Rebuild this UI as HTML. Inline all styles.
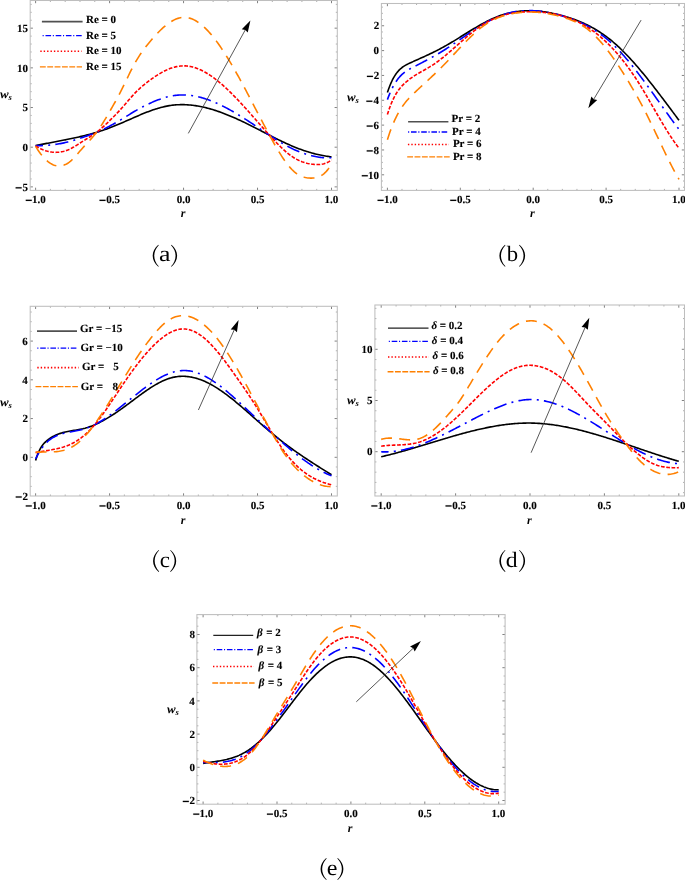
<!DOCTYPE html><html><head><meta charset="utf-8"><title>Figure</title><style>html,body{margin:0;padding:0;background:#fff}svg{display:block}</style></head><body><div style="will-change:transform;width:685px;height:880px;overflow:hidden"><svg width="685" height="880" viewBox="0 0 685 880" text-rendering="geometricPrecision">
<rect width="685" height="880" fill="#fff"/>
<clipPath id="cla"><rect x="30.2" y="0.5" width="307.1" height="189.9"/></clipPath>
<g clip-path="url(#cla)" fill="none" stroke-width="1.6" stroke-linejoin="round">
<polyline points="35.60,145.60 36.84,145.35 38.08,145.10 39.31,144.85 40.55,144.60 41.79,144.36 43.03,144.12 44.27,143.88 45.50,143.64 46.74,143.40 47.98,143.17 49.22,142.93 50.46,142.69 51.69,142.46 52.93,142.23 54.17,141.99 55.41,141.76 56.65,141.52 57.89,141.28 59.12,141.05 60.36,140.81 61.60,140.57 62.84,140.33 64.08,140.08 65.31,139.84 66.55,139.59 67.79,139.34 69.03,139.09 70.27,138.83 71.50,138.57 72.74,138.31 73.98,138.04 75.22,137.77 76.46,137.50 77.69,137.22 78.93,136.94 80.17,136.65 81.41,136.36 82.65,136.06 83.88,135.76 85.12,135.45 86.36,135.14 87.60,134.82 88.84,134.49 90.08,134.16 91.31,133.82 92.55,133.48 93.79,133.12 95.03,132.76 96.27,132.40 97.50,132.02 98.74,131.64 99.98,131.25 101.22,130.85 102.46,130.44 103.69,130.03 104.93,129.60 106.17,129.17 107.41,128.72 108.65,128.27 109.88,127.81 111.12,127.33 112.36,126.85 113.60,126.36 114.84,125.86 116.07,125.35 117.31,124.84 118.55,124.31 119.79,123.79 121.03,123.26 122.27,122.72 123.50,122.18 124.74,121.64 125.98,121.09 127.22,120.55 128.46,120.00 129.69,119.45 130.93,118.90 132.17,118.36 133.41,117.81 134.65,117.27 135.88,116.73 137.12,116.19 138.36,115.66 139.60,115.13 140.84,114.61 142.07,114.10 143.31,113.59 144.55,113.09 145.79,112.60 147.03,112.11 148.26,111.64 149.50,111.17 150.74,110.72 151.98,110.28 153.22,109.85 154.46,109.43 155.69,109.03 156.93,108.64 158.17,108.26 159.41,107.90 160.65,107.56 161.88,107.23 163.12,106.92 164.36,106.63 165.60,106.36 166.84,106.11 168.07,105.87 169.31,105.66 170.55,105.47 171.79,105.30 173.03,105.15 174.26,105.02 175.50,104.91 176.74,104.82 177.98,104.75 179.22,104.70 180.45,104.66 181.69,104.65 182.93,104.65 184.17,104.67 185.41,104.71 186.65,104.77 187.88,104.85 189.12,104.94 190.36,105.05 191.60,105.17 192.84,105.32 194.07,105.47 195.31,105.65 196.55,105.84 197.79,106.04 199.03,106.26 200.26,106.50 201.50,106.74 202.74,107.01 203.98,107.29 205.22,107.58 206.45,107.88 207.69,108.20 208.93,108.53 210.17,108.87 211.41,109.23 212.64,109.60 213.88,109.98 215.12,110.37 216.36,110.78 217.60,111.19 218.84,111.62 220.07,112.05 221.31,112.50 222.55,112.96 223.79,113.43 225.03,113.90 226.26,114.39 227.50,114.89 228.74,115.39 229.98,115.91 231.22,116.43 232.45,116.96 233.69,117.50 234.93,118.04 236.17,118.59 237.41,119.15 238.64,119.72 239.88,120.30 241.12,120.88 242.36,121.46 243.60,122.06 244.83,122.65 246.07,123.26 247.31,123.86 248.55,124.48 249.79,125.10 251.03,125.72 252.26,126.34 253.50,126.97 254.74,127.60 255.98,128.24 257.22,128.87 258.45,129.51 259.69,130.15 260.93,130.79 262.17,131.43 263.41,132.07 264.64,132.71 265.88,133.35 267.12,133.99 268.36,134.63 269.60,135.26 270.83,135.89 272.07,136.52 273.31,137.15 274.55,137.77 275.79,138.39 277.02,139.01 278.26,139.62 279.50,140.22 280.74,140.82 281.98,141.42 283.22,142.00 284.45,142.58 285.69,143.16 286.93,143.72 288.17,144.28 289.41,144.83 290.64,145.37 291.88,145.91 293.12,146.43 294.36,146.94 295.60,147.44 296.83,147.94 298.07,148.42 299.31,148.89 300.55,149.34 301.79,149.79 303.02,150.23 304.26,150.65 305.50,151.06 306.74,151.46 307.98,151.85 309.21,152.23 310.45,152.59 311.69,152.94 312.93,153.28 314.17,153.61 315.41,153.93 316.64,154.23 317.88,154.52 319.12,154.80 320.36,155.07 321.60,155.32 322.83,155.56 324.07,155.79 325.31,156.00 326.55,156.20 327.79,156.39 329.02,156.57 330.26,156.73 331.50,156.88" stroke="#000000"/>
<polyline points="35.60,145.69 36.84,145.69 38.08,145.67 39.31,145.65 40.55,145.62 41.79,145.58 43.03,145.52 44.27,145.46 45.50,145.39 46.74,145.31 47.98,145.21 49.22,145.11 50.46,144.99 51.69,144.86 52.93,144.72 54.17,144.56 55.41,144.40 56.65,144.22 57.89,144.03 59.12,143.82 60.36,143.60 61.60,143.37 62.84,143.12 64.08,142.86 65.31,142.59 66.55,142.30 67.79,141.99 69.03,141.67 70.27,141.33 71.50,140.98 72.74,140.62 73.98,140.24 75.22,139.86 76.46,139.46 77.69,139.05 78.93,138.64 80.17,138.23 81.41,137.81 82.65,137.39 83.88,136.97 85.12,136.54 86.36,136.12 87.60,135.69 88.84,135.25 90.08,134.81 91.31,134.35 92.55,133.89 93.79,133.42 95.03,132.93 96.27,132.43 97.50,131.92 98.74,131.39 99.98,130.84 101.22,130.27 102.46,129.69 103.69,129.10 104.93,128.49 106.17,127.88 107.41,127.25 108.65,126.60 109.88,125.95 111.12,125.29 112.36,124.63 113.60,123.95 114.84,123.26 116.07,122.56 117.31,121.86 118.55,121.14 119.79,120.41 121.03,119.67 122.27,118.92 123.50,118.16 124.74,117.39 125.98,116.62 127.22,115.85 128.46,115.08 129.69,114.31 130.93,113.55 132.17,112.79 133.41,112.05 134.65,111.31 135.88,110.58 137.12,109.87 138.36,109.18 139.60,108.49 140.84,107.82 142.07,107.17 143.31,106.52 144.55,105.90 145.79,105.28 147.03,104.67 148.26,104.08 149.50,103.51 150.74,102.94 151.98,102.39 153.22,101.85 154.46,101.32 155.69,100.81 156.93,100.32 158.17,99.84 159.41,99.38 160.65,98.94 161.88,98.52 163.12,98.12 164.36,97.74 165.60,97.39 166.84,97.05 168.07,96.74 169.31,96.45 170.55,96.19 171.79,95.96 173.03,95.75 174.26,95.56 175.50,95.40 176.74,95.26 177.98,95.15 179.22,95.07 180.45,95.00 181.69,94.97 182.93,94.96 184.17,94.97 185.41,95.01 186.65,95.08 187.88,95.17 189.12,95.28 190.36,95.42 191.60,95.58 192.84,95.76 194.07,95.96 195.31,96.19 196.55,96.44 197.79,96.71 199.03,97.00 200.26,97.31 201.50,97.64 202.74,97.99 203.98,98.36 205.22,98.75 206.45,99.16 207.69,99.58 208.93,100.03 210.17,100.49 211.41,100.96 212.64,101.46 213.88,101.97 215.12,102.49 216.36,103.04 217.60,103.59 218.84,104.16 220.07,104.75 221.31,105.35 222.55,105.96 223.79,106.59 225.03,107.22 226.26,107.87 227.50,108.54 228.74,109.21 229.98,109.90 231.22,110.59 232.45,111.30 233.69,112.02 234.93,112.74 236.17,113.48 237.41,114.22 238.64,114.97 239.88,115.73 241.12,116.50 242.36,117.28 243.60,118.06 244.83,118.85 246.07,119.64 247.31,120.44 248.55,121.25 249.79,122.06 251.03,122.88 252.26,123.70 253.50,124.52 254.74,125.34 255.98,126.17 257.22,127.00 258.45,127.83 259.69,128.66 260.93,129.49 262.17,130.32 263.41,131.15 264.64,131.98 265.88,132.81 267.12,133.63 268.36,134.45 269.60,135.27 270.83,136.09 272.07,136.90 273.31,137.70 274.55,138.50 275.79,139.29 277.02,140.07 278.26,140.84 279.50,141.61 280.74,142.36 281.98,143.10 283.22,143.83 284.45,144.55 285.69,145.25 286.93,145.94 288.17,146.61 289.41,147.26 290.64,147.90 291.88,148.52 293.12,149.12 294.36,149.70 295.60,150.26 296.83,150.80 298.07,151.32 299.31,151.82 300.55,152.29 301.79,152.75 303.02,153.19 304.26,153.61 305.50,154.01 306.74,154.39 307.98,154.75 309.21,155.10 310.45,155.43 311.69,155.74 312.93,156.03 314.17,156.31 315.41,156.57 316.64,156.81 317.88,157.03 319.12,157.23 320.36,157.40 321.60,157.55 322.83,157.67 324.07,157.77 325.31,157.83 326.55,157.86 327.79,157.86 329.02,157.83 330.26,157.76 331.50,157.66" stroke="#0000ff" stroke-dasharray="13.2 5.2 2 5.2" stroke-dashoffset="5.8"/>
<polyline points="35.60,145.96 36.84,146.70 38.08,147.40 39.31,148.06 40.55,148.67 41.79,149.23 43.03,149.75 44.27,150.22 45.50,150.64 46.74,151.02 47.98,151.35 49.22,151.64 50.46,151.87 51.69,152.06 52.93,152.20 54.17,152.29 55.41,152.33 56.65,152.32 57.89,152.26 59.12,152.15 60.36,151.99 61.60,151.78 62.84,151.52 64.08,151.21 65.31,150.84 66.55,150.42 67.79,149.95 69.03,149.43 70.27,148.85 71.50,148.23 72.74,147.55 73.98,146.85 75.22,146.11 76.46,145.34 77.69,144.56 78.93,143.76 80.17,142.96 81.41,142.16 82.65,141.37 83.88,140.59 85.12,139.82 86.36,139.05 87.60,138.29 88.84,137.52 90.08,136.74 91.31,135.95 92.55,135.14 93.79,134.31 95.03,133.44 96.27,132.55 97.50,131.61 98.74,130.63 99.98,129.60 101.22,128.54 102.46,127.45 103.69,126.33 104.93,125.18 106.17,124.00 107.41,122.81 108.65,121.61 109.88,120.40 111.12,119.18 112.36,117.96 113.60,116.72 114.84,115.47 116.07,114.20 117.31,112.92 118.55,111.61 119.79,110.27 121.03,108.90 122.27,107.50 123.50,106.08 124.74,104.65 125.98,103.21 127.22,101.77 128.46,100.33 129.69,98.90 130.93,97.49 132.17,96.10 133.41,94.75 134.65,93.42 135.88,92.15 137.12,90.91 138.36,89.72 139.60,88.57 140.84,87.46 142.07,86.38 143.31,85.33 144.55,84.32 145.79,83.33 147.03,82.36 148.26,81.42 149.50,80.50 150.74,79.60 151.98,78.72 153.22,77.85 154.46,77.00 155.69,76.17 156.93,75.37 158.17,74.58 159.41,73.83 160.65,73.10 161.88,72.39 163.12,71.72 164.36,71.07 165.60,70.46 166.84,69.88 168.07,69.34 169.31,68.83 170.55,68.36 171.79,67.93 173.03,67.53 174.26,67.18 175.50,66.86 176.74,66.59 177.98,66.36 179.22,66.17 180.45,66.03 181.69,65.93 182.93,65.88 184.17,65.87 185.41,65.91 186.65,66.00 187.88,66.13 189.12,66.31 190.36,66.53 191.60,66.79 192.84,67.09 194.07,67.44 195.31,67.82 196.55,68.25 197.79,68.71 199.03,69.22 200.26,69.76 201.50,70.33 202.74,70.95 203.98,71.59 205.22,72.27 206.45,72.99 207.69,73.74 208.93,74.51 210.17,75.32 211.41,76.16 212.64,77.03 213.88,77.93 215.12,78.86 216.36,79.81 217.60,80.79 218.84,81.80 220.07,82.83 221.31,83.88 222.55,84.96 223.79,86.06 225.03,87.18 226.26,88.32 227.50,89.49 228.74,90.67 229.98,91.87 231.22,93.09 232.45,94.32 233.69,95.57 234.93,96.84 236.17,98.12 237.41,99.42 238.64,100.73 239.88,102.05 241.12,103.38 242.36,104.72 243.60,106.07 244.83,107.44 246.07,108.81 247.31,110.18 248.55,111.57 249.79,112.96 251.03,114.35 252.26,115.75 253.50,117.16 254.74,118.56 255.98,119.97 257.22,121.38 258.45,122.79 259.69,124.19 260.93,125.60 262.17,127.00 263.41,128.40 264.64,129.79 265.88,131.18 267.12,132.57 268.36,133.94 269.60,135.31 270.83,136.67 272.07,138.02 273.31,139.35 274.55,140.67 275.79,141.98 277.02,143.26 278.26,144.52 279.50,145.76 280.74,146.98 281.98,148.16 283.22,149.32 284.45,150.44 285.69,151.53 286.93,152.58 288.17,153.59 289.41,154.56 290.64,155.49 291.88,156.37 293.12,157.21 294.36,157.99 295.60,158.72 296.83,159.40 298.07,160.03 299.31,160.61 300.55,161.15 301.79,161.64 303.02,162.08 304.26,162.48 305.50,162.85 306.74,163.17 307.98,163.46 309.21,163.71 310.45,163.93 311.69,164.12 312.93,164.28 314.17,164.41 315.41,164.50 316.64,164.55 317.88,164.56 319.12,164.51 320.36,164.41 321.60,164.24 322.83,164.01 324.07,163.70 325.31,163.31 326.55,162.84 327.79,162.28 329.02,161.62 330.26,160.86 331.50,159.99" stroke="#ff0000" stroke-dasharray="3.7 1.6"/>
<polyline points="35.60,146.42 36.84,148.40 38.08,150.29 39.31,152.07 40.55,153.75 41.79,155.32 43.03,156.79 44.27,158.15 45.50,159.40 46.74,160.55 47.98,161.59 49.22,162.52 50.46,163.34 51.69,164.06 52.93,164.67 54.17,165.16 55.41,165.55 56.65,165.82 57.89,165.99 59.12,166.04 60.36,165.98 61.60,165.80 62.84,165.51 64.08,165.11 65.31,164.60 66.55,163.97 67.79,163.22 69.03,162.36 70.27,161.38 71.50,160.29 72.74,159.11 73.98,157.85 75.22,156.52 76.46,155.14 77.69,153.73 78.93,152.29 80.17,150.85 81.41,149.41 82.65,148.00 83.88,146.62 85.12,145.27 86.36,143.94 87.60,142.62 88.84,141.30 90.08,139.97 91.31,138.61 92.55,137.22 93.79,135.79 95.03,134.29 96.27,132.73 97.50,131.09 98.74,129.36 99.98,127.55 101.22,125.66 102.46,123.71 103.69,121.70 104.93,119.64 106.17,117.55 107.41,115.43 108.65,113.29 109.88,111.14 111.12,108.99 112.36,106.84 113.60,104.67 114.84,102.49 116.07,100.27 117.31,98.02 118.55,95.72 119.79,93.37 121.03,90.95 122.27,88.48 123.50,85.96 124.74,83.42 125.98,80.86 127.22,78.29 128.46,75.74 129.69,73.21 130.93,70.72 132.17,68.29 133.41,65.91 134.65,63.62 135.88,61.42 137.12,59.31 138.36,57.30 139.60,55.36 140.84,53.51 142.07,51.73 143.31,50.01 144.55,48.35 145.79,46.74 147.03,45.18 148.26,43.66 149.50,42.17 150.74,40.70 151.98,39.26 153.22,37.85 154.46,36.46 155.69,35.10 156.93,33.78 158.17,32.49 159.41,31.23 160.65,30.02 161.88,28.84 163.12,27.71 164.36,26.63 165.60,25.59 166.84,24.60 168.07,23.67 169.31,22.79 170.55,21.97 171.79,21.21 173.03,20.51 174.26,19.88 175.50,19.31 176.74,18.81 177.98,18.38 179.22,18.02 180.45,17.74 181.69,17.53 182.93,17.41 184.17,17.37 185.41,17.41 186.65,17.53 187.88,17.74 189.12,18.02 190.36,18.38 191.60,18.81 192.84,19.32 194.07,19.90 195.31,20.55 196.55,21.27 197.79,22.06 199.03,22.91 200.26,23.83 201.50,24.82 202.74,25.87 203.98,26.98 205.22,28.15 206.45,29.37 207.69,30.66 208.93,31.99 210.17,33.39 211.41,34.83 212.64,36.33 213.88,37.87 215.12,39.47 216.36,41.11 217.60,42.79 218.84,44.52 220.07,46.30 221.31,48.11 222.55,49.96 223.79,51.85 225.03,53.78 226.26,55.74 227.50,57.74 228.74,59.77 229.98,61.82 231.22,63.91 232.45,66.03 233.69,68.17 234.93,70.34 236.17,72.53 237.41,74.75 238.64,76.98 239.88,79.23 241.12,81.50 242.36,83.79 243.60,86.10 244.83,88.41 246.07,90.74 247.31,93.08 248.55,95.43 249.79,97.79 251.03,100.15 252.26,102.52 253.50,104.89 254.74,107.26 255.98,109.63 257.22,112.01 258.45,114.38 259.69,116.74 260.93,119.11 262.17,121.46 263.41,123.81 264.64,126.14 265.88,128.47 267.12,130.79 268.36,133.09 269.60,135.37 270.83,137.64 272.07,139.89 273.31,142.11 274.55,144.30 275.79,146.46 277.02,148.58 278.26,150.66 279.50,152.69 280.74,154.67 281.98,156.60 283.22,158.46 284.45,160.26 285.69,161.99 286.93,163.65 288.17,165.23 289.41,166.72 290.64,168.13 291.88,169.45 293.12,170.68 294.36,171.80 295.60,172.82 296.83,173.74 298.07,174.56 299.31,175.28 300.55,175.90 301.79,176.45 303.02,176.90 304.26,177.28 305.50,177.58 306.74,177.81 307.98,177.97 309.21,178.07 310.45,178.11 311.69,178.09 312.93,178.03 314.17,177.90 315.41,177.72 316.64,177.46 317.88,177.11 319.12,176.66 320.36,176.09 321.60,175.40 322.83,174.57 324.07,173.59 325.31,172.45 326.55,171.13 327.79,169.63 329.02,167.93 330.26,166.01 331.50,163.88" stroke="#ff8000" stroke-dasharray="10.9 7.3"/>
</g>
<path d="M50.40 190.4v-1.5M50.40 0.5v1.5M65.19 190.4v-1.5M65.19 0.5v1.5M79.99 190.4v-1.5M79.99 0.5v1.5M94.78 190.4v-1.5M94.78 0.5v1.5M124.37 190.4v-1.5M124.37 0.5v1.5M139.17 190.4v-1.5M139.17 0.5v1.5M153.96 190.4v-1.5M153.96 0.5v1.5M168.76 190.4v-1.5M168.76 0.5v1.5M198.34 190.4v-1.5M198.34 0.5v1.5M213.14 190.4v-1.5M213.14 0.5v1.5M227.94 190.4v-1.5M227.94 0.5v1.5M242.73 190.4v-1.5M242.73 0.5v1.5M272.32 190.4v-1.5M272.32 0.5v1.5M287.12 190.4v-1.5M287.12 0.5v1.5M301.91 190.4v-1.5M301.91 0.5v1.5M316.71 190.4v-1.5M316.71 0.5v1.5M30.2 178.94h1.5M337.3 178.94h-1.5M30.2 171.00h1.5M337.3 171.00h-1.5M30.2 163.07h1.5M337.3 163.07h-1.5M30.2 155.13h1.5M337.3 155.13h-1.5M30.2 139.26h1.5M337.3 139.26h-1.5M30.2 131.33h1.5M337.3 131.33h-1.5M30.2 123.39h1.5M337.3 123.39h-1.5M30.2 115.46h1.5M337.3 115.46h-1.5M30.2 99.59h1.5M337.3 99.59h-1.5M30.2 91.66h1.5M337.3 91.66h-1.5M30.2 83.72h1.5M337.3 83.72h-1.5M30.2 75.78h1.5M337.3 75.78h-1.5M30.2 59.91h1.5M337.3 59.91h-1.5M30.2 51.98h1.5M337.3 51.98h-1.5M30.2 44.04h1.5M337.3 44.04h-1.5M30.2 36.11h1.5M337.3 36.11h-1.5M30.2 20.24h1.5M337.3 20.24h-1.5M30.2 12.31h1.5M337.3 12.31h-1.5M30.2 4.37h1.5M337.3 4.37h-1.5" stroke="#9a9a9a" stroke-width="0.8" fill="none"/>
<path d="M35.60 190.4v-2.7M35.60 0.5v2.7M109.58 190.4v-2.7M109.58 0.5v2.7M183.55 190.4v-2.7M183.55 0.5v2.7M257.52 190.4v-2.7M257.52 0.5v2.7M331.50 190.4v-2.7M331.50 0.5v2.7M30.2 186.88h2.7M337.3 186.88h-2.7M30.2 147.20h2.7M337.3 147.20h-2.7M30.2 107.52h2.7M337.3 107.52h-2.7M30.2 67.85h2.7M337.3 67.85h-2.7M30.2 28.17h2.7M337.3 28.17h-2.7" stroke="#6a6a6a" stroke-width="0.85" fill="none"/>
<rect x="30.2" y="0.5" width="307.10" height="189.90" fill="none" stroke="#bebebe" stroke-width="1.05"/>
<g font-family="Liberation Serif, serif" font-weight="bold" font-size="11px" fill="#000" stroke="#000" stroke-width="0.12" stroke-linejoin="round">
<text x="32.09" y="203.10">1.0</text><rect x="25.77" y="199.72" width="6.0" height="1.25" fill="#000"/>
<text x="106.29" y="203.10">0.5</text><rect x="99.51" y="199.72" width="6.0" height="1.25" fill="#000"/>
<text x="176.68" y="203.10">0.0</text>
<text x="250.64" y="203.10">0.5</text>
<text x="324.39" y="203.10">1.0</text>
<text x="22.40" y="190.57">5</text><rect x="15.64" y="187.20" width="6.0" height="1.25" fill="#000"/>
<text x="22.42" y="150.90">0</text>
<text x="22.40" y="111.22">5</text>
<text x="16.92" y="71.55">10</text>
<text x="16.90" y="31.87">15</text>
<text x="86.0" y="22.7" xml:space="preserve"><tspan>Re = 0</tspan></text>
<text x="86.0" y="38.5" xml:space="preserve"><tspan>Re = 5</tspan></text>
<text x="86.0" y="54.4" xml:space="preserve"><tspan>Re = 10</tspan></text>
<text x="86.0" y="69.9" xml:space="preserve"><tspan>Re = 15</tspan></text>
</g>
<line x1="41.9" y1="21.6" x2="82.6" y2="21.6" stroke="#505050" stroke-width="1.6"/>
<line x1="42.6" y1="35.65" x2="82.2" y2="35.65" stroke="#0000ff" stroke-width="1.3" stroke-dasharray="1.1 1.8 5.6 1.7"/>
<line x1="40.3" y1="51.15" x2="81.6" y2="51.15" stroke="#ff0000" stroke-width="1.55" stroke-dasharray="1.4 2.0"/>
<line x1="39.9" y1="66.9" x2="82.0" y2="66.9" stroke="#ff8000" stroke-width="1.4" stroke-dasharray="5.85 1.5"/>
<text transform="translate(0.0,97.7) scale(1.08,1)" font-family="Liberation Serif, serif" font-weight="bold" font-style="italic" font-size="12px">w</text>
<text x="8.6" y="99.9" font-family="Liberation Serif, serif" font-weight="bold" font-style="italic" font-size="8.5px">s</text>
<text x="183.0" y="217.3" text-anchor="middle" font-family="Liberation Serif, serif" font-weight="bold" font-style="italic" font-size="12px">r</text>
<path d="M158.30 244.80C150.83 251.00 150.83 260.60 158.30 266.80L158.75 266.35C152.75 260.20 152.75 251.40 158.75 245.25Z" fill="#000"/><text transform="translate(159.09,261.40) scale(1.174,1)" font-family="Liberation Serif, serif" font-size="22px">a</text><path d="M171.50 244.80C178.97 251.00 178.97 260.60 171.50 266.80L171.05 266.35C177.05 260.20 177.05 251.40 171.05 245.25Z" fill="#000"/>
<line x1="188.3" y1="133.4" x2="245.29" y2="29.89" stroke="#3a3a3a" stroke-width="0.85"/>
<path d="M250.40 20.60L247.74 32.49L245.29 29.89L241.78 29.21Z" fill="#000"/>
<clipPath id="clb"><rect x="381.4" y="3.5" width="303.1" height="186.9"/></clipPath>
<g clip-path="url(#clb)" fill="none" stroke-width="1.6" stroke-linejoin="round">
<polyline points="387.40,92.45 388.62,88.91 389.84,85.71 391.06,82.82 392.28,80.23 393.50,77.91 394.72,75.84 395.94,74.00 397.16,72.36 398.38,70.92 399.60,69.65 400.82,68.52 402.04,67.51 403.26,66.62 404.48,65.83 405.70,65.11 406.92,64.46 408.14,63.85 409.36,63.28 410.58,62.72 411.80,62.17 413.02,61.62 414.24,61.07 415.46,60.52 416.68,59.98 417.90,59.43 419.12,58.88 420.34,58.33 421.56,57.78 422.78,57.23 424.00,56.67 425.22,56.11 426.44,55.55 427.66,54.98 428.88,54.41 430.10,53.83 431.32,53.25 432.54,52.66 433.76,52.06 434.98,51.46 436.20,50.85 437.42,50.23 438.64,49.60 439.86,48.96 441.08,48.32 442.30,47.66 443.52,46.99 444.74,46.31 445.96,45.62 447.18,44.92 448.40,44.22 449.62,43.50 450.84,42.78 452.06,42.05 453.28,41.31 454.50,40.57 455.72,39.82 456.94,39.07 458.16,38.32 459.38,37.56 460.61,36.80 461.83,36.04 463.05,35.28 464.27,34.53 465.49,33.77 466.71,33.01 467.93,32.26 469.15,31.50 470.37,30.76 471.59,30.01 472.81,29.28 474.03,28.55 475.25,27.82 476.47,27.10 477.69,26.39 478.91,25.69 480.13,25.00 481.35,24.32 482.57,23.65 483.79,22.99 485.01,22.34 486.23,21.70 487.45,21.08 488.67,20.48 489.89,19.89 491.11,19.31 492.33,18.75 493.55,18.21 494.77,17.68 495.99,17.18 497.21,16.69 498.43,16.22 499.65,15.78 500.87,15.35 502.09,14.95 503.31,14.56 504.53,14.20 505.75,13.85 506.97,13.52 508.19,13.22 509.41,12.93 510.63,12.66 511.85,12.41 513.07,12.17 514.29,11.96 515.51,11.76 516.73,11.58 517.95,11.42 519.17,11.28 520.39,11.15 521.61,11.04 522.83,10.95 524.05,10.87 525.27,10.81 526.49,10.76 527.71,10.73 528.93,10.72 530.15,10.72 531.37,10.74 532.59,10.77 533.81,10.82 535.03,10.88 536.25,10.96 537.47,11.05 538.69,11.15 539.91,11.27 541.13,11.40 542.35,11.55 543.57,11.70 544.79,11.87 546.01,12.06 547.23,12.25 548.45,12.46 549.67,12.68 550.89,12.91 552.11,13.16 553.33,13.41 554.55,13.68 555.77,13.95 556.99,14.24 558.21,14.54 559.43,14.85 560.65,15.17 561.87,15.50 563.09,15.83 564.31,16.18 565.53,16.54 566.75,16.91 567.97,17.29 569.19,17.68 570.41,18.08 571.63,18.49 572.85,18.92 574.07,19.35 575.29,19.80 576.51,20.27 577.73,20.74 578.95,21.23 580.17,21.74 581.39,22.26 582.61,22.79 583.83,23.34 585.05,23.90 586.27,24.48 587.49,25.08 588.71,25.69 589.93,26.32 591.15,26.97 592.37,27.63 593.59,28.32 594.81,29.02 596.03,29.74 597.25,30.48 598.47,31.24 599.69,32.02 600.91,32.82 602.13,33.64 603.35,34.48 604.57,35.34 605.79,36.22 607.02,37.13 608.24,38.05 609.46,39.00 610.68,39.98 611.90,40.97 613.12,41.99 614.34,43.04 615.56,44.11 616.78,45.20 618.00,46.31 619.22,47.45 620.44,48.61 621.66,49.79 622.88,50.99 624.10,52.21 625.32,53.45 626.54,54.71 627.76,55.99 628.98,57.29 630.20,58.60 631.42,59.93 632.64,61.28 633.86,62.65 635.08,64.03 636.30,65.43 637.52,66.84 638.74,68.27 639.96,69.71 641.18,71.16 642.40,72.63 643.62,74.11 644.84,75.60 646.06,77.11 647.28,78.62 648.50,80.15 649.72,81.68 650.94,83.23 652.16,84.78 653.38,86.35 654.60,87.92 655.82,89.49 657.04,91.08 658.26,92.67 659.48,94.27 660.70,95.87 661.92,97.48 663.14,99.10 664.36,100.72 665.58,102.34 666.80,103.96 668.02,105.59 669.24,107.22 670.46,108.85 671.68,110.48 672.90,112.12 674.12,113.75 675.34,115.39 676.56,117.02 677.78,118.65 679.00,120.28" stroke="#000000"/>
<polyline points="387.40,99.61 388.62,96.36 389.84,93.37 391.06,90.62 392.28,88.08 393.50,85.76 394.72,83.64 395.94,81.71 397.16,79.95 398.38,78.35 399.60,76.91 400.82,75.59 402.04,74.41 403.26,73.33 404.48,72.36 405.70,71.47 406.92,70.66 408.14,69.90 409.36,69.20 410.58,68.54 411.80,67.89 413.02,67.27 414.24,66.64 415.46,66.01 416.68,65.38 417.90,64.76 419.12,64.13 420.34,63.49 421.56,62.86 422.78,62.22 424.00,61.58 425.22,60.94 426.44,60.29 427.66,59.64 428.88,58.98 430.10,58.32 431.32,57.65 432.54,56.97 433.76,56.29 434.98,55.60 436.20,54.90 437.42,54.19 438.64,53.47 439.86,52.75 441.08,52.01 442.30,51.27 443.52,50.51 444.74,49.74 445.96,48.96 447.18,48.17 448.40,47.37 449.62,46.57 450.84,45.76 452.06,44.94 453.28,44.11 454.50,43.29 455.72,42.45 456.94,41.61 458.16,40.78 459.38,39.93 460.61,39.09 461.83,38.25 463.05,37.40 464.27,36.56 465.49,35.72 466.71,34.88 467.93,34.05 469.15,33.22 470.37,32.39 471.59,31.57 472.81,30.76 474.03,29.95 475.25,29.16 476.47,28.37 477.69,27.58 478.91,26.81 480.13,26.05 481.35,25.31 482.57,24.57 483.79,23.85 485.01,23.14 486.23,22.44 487.45,21.76 488.67,21.10 489.89,20.46 491.11,19.83 492.33,19.22 493.55,18.63 494.77,18.06 495.99,17.50 497.21,16.98 498.43,16.47 499.65,15.98 500.87,15.52 502.09,15.08 503.31,14.67 504.53,14.27 505.75,13.90 506.97,13.55 508.19,13.22 509.41,12.91 510.63,12.62 511.85,12.35 513.07,12.10 514.29,11.87 515.51,11.66 516.73,11.47 517.95,11.30 519.17,11.15 520.39,11.02 521.61,10.90 522.83,10.81 524.05,10.73 525.27,10.67 526.49,10.62 527.71,10.60 528.93,10.59 530.15,10.59 531.37,10.62 532.59,10.66 533.81,10.71 535.03,10.78 536.25,10.87 537.47,10.97 538.69,11.09 539.91,11.22 541.13,11.36 542.35,11.52 543.57,11.69 544.79,11.88 546.01,12.08 547.23,12.29 548.45,12.52 549.67,12.76 550.89,13.01 552.11,13.27 553.33,13.55 554.55,13.83 555.77,14.13 556.99,14.44 558.21,14.76 559.43,15.09 560.65,15.43 561.87,15.78 563.09,16.14 564.31,16.51 565.53,16.89 566.75,17.28 567.97,17.68 569.19,18.09 570.41,18.52 571.63,18.95 572.85,19.40 574.07,19.87 575.29,20.34 576.51,20.83 577.73,21.34 578.95,21.86 580.17,22.40 581.39,22.95 582.61,23.52 583.83,24.11 585.05,24.71 586.27,25.34 587.49,25.98 588.71,26.64 589.93,27.32 591.15,28.02 592.37,28.74 593.59,29.48 594.81,30.24 596.03,31.03 597.25,31.84 598.47,32.67 599.69,33.52 600.91,34.40 602.13,35.30 603.35,36.22 604.57,37.18 605.79,38.15 607.02,39.16 608.24,40.19 609.46,41.24 610.68,42.33 611.90,43.44 613.12,44.58 614.34,45.75 615.56,46.95 616.78,48.18 618.00,49.43 619.22,50.71 620.44,52.02 621.66,53.35 622.88,54.70 624.10,56.08 625.32,57.48 626.54,58.90 627.76,60.34 628.98,61.81 630.20,63.29 631.42,64.79 632.64,66.30 633.86,67.84 635.08,69.39 636.30,70.96 637.52,72.54 638.74,74.13 639.96,75.74 641.18,77.36 642.40,78.99 643.62,80.63 644.84,82.29 646.06,83.95 647.28,85.62 648.50,87.29 649.72,88.98 650.94,90.67 652.16,92.37 653.38,94.07 654.60,95.77 655.82,97.48 657.04,99.19 658.26,100.90 659.48,102.61 660.70,104.32 661.92,106.04 663.14,107.75 664.36,109.45 665.58,111.16 666.80,112.86 668.02,114.55 669.24,116.24 670.46,117.93 671.68,119.60 672.90,121.27 674.12,122.93 675.34,124.58 676.56,126.22 677.78,127.85 679.00,129.47" stroke="#0000ff" stroke-dasharray="13.2 5.2 2 5.2" stroke-dashoffset="5.8"/>
<polyline points="387.40,114.42 388.62,110.65 389.84,107.20 391.06,104.04 392.28,101.16 393.50,98.54 394.72,96.16 395.94,94.01 397.16,92.05 398.38,90.27 399.60,88.65 400.82,87.18 402.04,85.82 403.26,84.57 404.48,83.41 405.70,82.31 406.92,81.26 408.14,80.26 409.36,79.32 410.58,78.41 411.80,77.54 413.02,76.71 414.24,75.91 415.46,75.14 416.68,74.40 417.90,73.67 419.12,72.96 420.34,72.26 421.56,71.57 422.78,70.89 424.00,70.21 425.22,69.52 426.44,68.83 427.66,68.13 428.88,67.41 430.10,66.68 431.32,65.92 432.54,65.14 433.76,64.33 434.98,63.49 436.20,62.63 437.42,61.75 438.64,60.84 439.86,59.91 441.08,58.97 442.30,58.00 443.52,57.02 444.74,56.02 445.96,55.01 447.18,53.98 448.40,52.94 449.62,51.90 450.84,50.84 452.06,49.78 453.28,48.71 454.50,47.64 455.72,46.56 456.94,45.48 458.16,44.40 459.38,43.32 460.61,42.25 461.83,41.18 463.05,40.11 464.27,39.05 465.49,38.00 466.71,36.95 467.93,35.92 469.15,34.90 470.37,33.89 471.59,32.89 472.81,31.91 474.03,30.95 475.25,30.01 476.47,29.09 477.69,28.19 478.91,27.31 480.13,26.46 481.35,25.63 482.57,24.82 483.79,24.05 485.01,23.31 486.23,22.59 487.45,21.90 488.67,21.24 489.89,20.61 491.11,20.00 492.33,19.42 493.55,18.86 494.77,18.33 495.99,17.83 497.21,17.34 498.43,16.89 499.65,16.45 500.87,16.04 502.09,15.65 503.31,15.28 504.53,14.94 505.75,14.61 506.97,14.31 508.19,14.02 509.41,13.76 510.63,13.51 511.85,13.28 513.07,13.07 514.29,12.88 515.51,12.70 516.73,12.54 517.95,12.40 519.17,12.27 520.39,12.16 521.61,12.07 522.83,11.98 524.05,11.91 525.27,11.86 526.49,11.82 527.71,11.79 528.93,11.77 530.15,11.76 531.37,11.76 532.59,11.78 533.81,11.80 535.03,11.84 536.25,11.88 537.47,11.94 538.69,12.01 539.91,12.08 541.13,12.17 542.35,12.27 543.57,12.39 544.79,12.51 546.01,12.65 547.23,12.80 548.45,12.97 549.67,13.15 550.89,13.34 552.11,13.55 553.33,13.77 554.55,14.01 555.77,14.26 556.99,14.53 558.21,14.81 559.43,15.11 560.65,15.43 561.87,15.76 563.09,16.11 564.31,16.48 565.53,16.87 566.75,17.27 567.97,17.69 569.19,18.14 570.41,18.60 571.63,19.08 572.85,19.58 574.07,20.10 575.29,20.64 576.51,21.20 577.73,21.78 578.95,22.38 580.17,23.01 581.39,23.66 582.61,24.32 583.83,25.02 585.05,25.73 586.27,26.47 587.49,27.23 588.71,28.02 589.93,28.82 591.15,29.66 592.37,30.52 593.59,31.40 594.81,32.31 596.03,33.24 597.25,34.20 598.47,35.18 599.69,36.19 600.91,37.22 602.13,38.28 603.35,39.37 604.57,40.48 605.79,41.62 607.02,42.78 608.24,43.97 609.46,45.19 610.68,46.44 611.90,47.71 613.12,49.01 614.34,50.34 615.56,51.70 616.78,53.08 618.00,54.49 619.22,55.93 620.44,57.40 621.66,58.90 622.88,60.42 624.10,61.98 625.32,63.56 626.54,65.18 627.76,66.82 628.98,68.49 630.20,70.20 631.42,71.93 632.64,73.69 633.86,75.49 635.08,77.31 636.30,79.17 637.52,81.05 638.74,82.97 639.96,84.92 641.18,86.90 642.40,88.90 643.62,90.92 644.84,92.97 646.06,95.03 647.28,97.11 648.50,99.20 649.72,101.30 650.94,103.41 652.16,105.53 653.38,107.64 654.60,109.76 655.82,111.88 657.04,113.99 658.26,116.09 659.48,118.18 660.70,120.26 661.92,122.33 663.14,124.37 664.36,126.40 665.58,128.41 666.80,130.38 668.02,132.33 669.24,134.26 670.46,136.14 671.68,138.00 672.90,139.81 674.12,141.58 675.34,143.31 676.56,145.00 677.78,146.63 679.00,148.22" stroke="#ff0000" stroke-dasharray="3.7 1.6"/>
<polyline points="387.40,139.71 388.62,135.91 389.84,132.34 391.06,129.00 392.28,125.86 393.50,122.93 394.72,120.18 395.94,117.61 397.16,115.20 398.38,112.95 399.60,110.84 400.82,108.86 402.04,107.01 403.26,105.26 404.48,103.62 405.70,102.06 406.92,100.59 408.14,99.19 409.36,97.85 410.58,96.57 411.80,95.34 413.02,94.13 414.24,92.96 415.46,91.80 416.68,90.65 417.90,89.51 419.12,88.37 420.34,87.24 421.56,86.11 422.78,84.98 424.00,83.86 425.22,82.73 426.44,81.61 427.66,80.48 428.88,79.35 430.10,78.22 431.32,77.09 432.54,75.94 433.76,74.80 434.98,73.64 436.20,72.48 437.42,71.30 438.64,70.12 439.86,68.92 441.08,67.72 442.30,66.49 443.52,65.26 444.74,64.01 445.96,62.74 447.18,61.47 448.40,60.18 449.62,58.89 450.84,57.59 452.06,56.28 453.28,54.97 454.50,53.66 455.72,52.35 456.94,51.03 458.16,49.73 459.38,48.42 460.61,47.12 461.83,45.83 463.05,44.55 464.27,43.28 465.49,42.02 466.71,40.77 467.93,39.54 469.15,38.33 470.37,37.13 471.59,35.96 472.81,34.80 474.03,33.67 475.25,32.57 476.47,31.49 477.69,30.44 478.91,29.41 480.13,28.42 481.35,27.46 482.57,26.54 483.79,25.65 485.01,24.80 486.23,23.98 487.45,23.20 488.67,22.46 489.89,21.74 491.11,21.06 492.33,20.41 493.55,19.79 494.77,19.21 495.99,18.65 497.21,18.12 498.43,17.62 499.65,17.14 500.87,16.69 502.09,16.27 503.31,15.87 504.53,15.50 505.75,15.15 506.97,14.82 508.19,14.51 509.41,14.23 510.63,13.96 511.85,13.71 513.07,13.48 514.29,13.27 515.51,13.08 516.73,12.90 517.95,12.74 519.17,12.60 520.39,12.47 521.61,12.36 522.83,12.26 524.05,12.18 525.27,12.12 526.49,12.07 527.71,12.04 528.93,12.02 530.15,12.02 531.37,12.03 532.59,12.05 533.81,12.10 535.03,12.15 536.25,12.22 537.47,12.31 538.69,12.41 539.91,12.52 541.13,12.65 542.35,12.79 543.57,12.95 544.79,13.12 546.01,13.30 547.23,13.50 548.45,13.71 549.67,13.93 550.89,14.17 552.11,14.41 553.33,14.68 554.55,14.95 555.77,15.24 556.99,15.54 558.21,15.85 559.43,16.18 560.65,16.51 561.87,16.86 563.09,17.22 564.31,17.59 565.53,17.98 566.75,18.38 567.97,18.80 569.19,19.23 570.41,19.69 571.63,20.17 572.85,20.67 574.07,21.20 575.29,21.75 576.51,22.33 577.73,22.95 578.95,23.59 580.17,24.27 581.39,24.98 582.61,25.74 583.83,26.53 585.05,27.36 586.27,28.23 587.49,29.15 588.71,30.11 589.93,31.12 591.15,32.17 592.37,33.27 593.59,34.41 594.81,35.59 596.03,36.81 597.25,38.08 598.47,39.39 599.69,40.73 600.91,42.11 602.13,43.54 603.35,44.99 604.57,46.48 605.79,48.01 607.02,49.57 608.24,51.17 609.46,52.79 610.68,54.45 611.90,56.14 613.12,57.86 614.34,59.60 615.56,61.37 616.78,63.18 618.00,65.00 619.22,66.85 620.44,68.73 621.66,70.63 622.88,72.55 624.10,74.49 625.32,76.46 626.54,78.44 627.76,80.44 628.98,82.46 630.20,84.50 631.42,86.56 632.64,88.64 633.86,90.74 635.08,92.87 636.30,95.02 637.52,97.19 638.74,99.39 639.96,101.62 641.18,103.88 642.40,106.17 643.62,108.49 644.84,110.84 646.06,113.23 647.28,115.65 648.50,118.11 649.72,120.59 650.94,123.10 652.16,125.62 653.38,128.17 654.60,130.73 655.82,133.30 657.04,135.87 658.26,138.45 659.48,141.03 660.70,143.60 661.92,146.17 663.14,148.73 664.36,151.27 665.58,153.79 666.80,156.29 668.02,158.77 669.24,161.21 670.46,163.63 671.68,166.00 672.90,168.34 674.12,170.64 675.34,172.88 676.56,175.08 677.78,177.22 679.00,179.31" stroke="#ff8000" stroke-dasharray="10.9 7.3"/>
</g>
<path d="M401.98 190.4v-1.5M401.98 3.5v1.5M416.56 190.4v-1.5M416.56 3.5v1.5M431.14 190.4v-1.5M431.14 3.5v1.5M445.72 190.4v-1.5M445.72 3.5v1.5M474.88 190.4v-1.5M474.88 3.5v1.5M489.46 190.4v-1.5M489.46 3.5v1.5M504.04 190.4v-1.5M504.04 3.5v1.5M518.62 190.4v-1.5M518.62 3.5v1.5M547.78 190.4v-1.5M547.78 3.5v1.5M562.36 190.4v-1.5M562.36 3.5v1.5M576.94 190.4v-1.5M576.94 3.5v1.5M591.52 190.4v-1.5M591.52 3.5v1.5M620.68 190.4v-1.5M620.68 3.5v1.5M635.26 190.4v-1.5M635.26 3.5v1.5M649.84 190.4v-1.5M649.84 3.5v1.5M664.42 190.4v-1.5M664.42 3.5v1.5M381.4 187.22h1.5M684.5 187.22h-1.5M381.4 181.01h1.5M684.5 181.01h-1.5M381.4 168.59h1.5M684.5 168.59h-1.5M381.4 162.38h1.5M684.5 162.38h-1.5M381.4 156.17h1.5M684.5 156.17h-1.5M381.4 143.75h1.5M684.5 143.75h-1.5M381.4 137.54h1.5M684.5 137.54h-1.5M381.4 131.33h1.5M684.5 131.33h-1.5M381.4 118.91h1.5M684.5 118.91h-1.5M381.4 112.70h1.5M684.5 112.70h-1.5M381.4 106.49h1.5M684.5 106.49h-1.5M381.4 94.07h1.5M684.5 94.07h-1.5M381.4 87.86h1.5M684.5 87.86h-1.5M381.4 81.65h1.5M684.5 81.65h-1.5M381.4 69.23h1.5M684.5 69.23h-1.5M381.4 63.02h1.5M684.5 63.02h-1.5M381.4 56.81h1.5M684.5 56.81h-1.5M381.4 44.39h1.5M684.5 44.39h-1.5M381.4 38.18h1.5M684.5 38.18h-1.5M381.4 31.97h1.5M684.5 31.97h-1.5M381.4 19.55h1.5M684.5 19.55h-1.5M381.4 13.34h1.5M684.5 13.34h-1.5M381.4 7.13h1.5M684.5 7.13h-1.5" stroke="#9a9a9a" stroke-width="0.8" fill="none"/>
<path d="M387.40 190.4v-2.7M387.40 3.5v2.7M460.30 190.4v-2.7M460.30 3.5v2.7M533.20 190.4v-2.7M533.20 3.5v2.7M606.10 190.4v-2.7M606.10 3.5v2.7M679.00 190.4v-2.7M679.00 3.5v2.7M381.4 174.80h2.7M684.5 174.80h-2.7M381.4 149.96h2.7M684.5 149.96h-2.7M381.4 125.12h2.7M684.5 125.12h-2.7M381.4 100.28h2.7M684.5 100.28h-2.7M381.4 75.44h2.7M684.5 75.44h-2.7M381.4 50.60h2.7M684.5 50.60h-2.7M381.4 25.76h2.7M684.5 25.76h-2.7" stroke="#6a6a6a" stroke-width="0.85" fill="none"/>
<rect x="381.4" y="3.5" width="303.10" height="186.90" fill="none" stroke="#bebebe" stroke-width="1.05"/>
<g font-family="Liberation Serif, serif" font-weight="bold" font-size="11px" fill="#000" stroke="#000" stroke-width="0.12" stroke-linejoin="round">
<text x="383.89" y="203.10">1.0</text><rect x="377.57" y="199.72" width="6.0" height="1.25" fill="#000"/>
<text x="457.02" y="203.10">0.5</text><rect x="450.24" y="199.72" width="6.0" height="1.25" fill="#000"/>
<text x="526.33" y="203.10">0.0</text>
<text x="599.22" y="203.10">0.5</text>
<text x="671.89" y="203.10">1.0</text>
<text x="368.12" y="178.50">10</text><rect x="361.80" y="175.12" width="6.0" height="1.25" fill="#000"/>
<text x="373.57" y="153.66">8</text><rect x="366.73" y="150.28" width="6.0" height="1.25" fill="#000"/>
<text x="373.52" y="128.82">6</text><rect x="366.70" y="125.44" width="6.0" height="1.25" fill="#000"/>
<text x="373.40" y="103.98">4</text><rect x="366.35" y="100.61" width="6.0" height="1.25" fill="#000"/>
<text x="373.67" y="79.14">2</text><rect x="366.93" y="75.77" width="6.0" height="1.25" fill="#000"/>
<text x="373.62" y="54.30">0</text>
<text x="373.67" y="29.46">2</text>
<text x="451.6" y="122.45" xml:space="preserve"><tspan>Pr = 2</tspan></text>
<text x="452.0" y="134.7" xml:space="preserve"><tspan>Pr = 4</tspan></text>
<text x="452.9" y="147.0" xml:space="preserve"><tspan>Pr = 6</tspan></text>
<text x="452.9" y="159.5" xml:space="preserve"><tspan>Pr = 8</tspan></text>
</g>
<line x1="408.1" y1="121.8" x2="448.4" y2="121.8" stroke="#505050" stroke-width="1.6"/>
<line x1="408.1" y1="132.0" x2="448.4" y2="132.0" stroke="#0000ff" stroke-width="1.3" stroke-dasharray="1.1 1.8 5.6 1.7"/>
<line x1="407.9" y1="144.4" x2="448.9" y2="144.4" stroke="#ff0000" stroke-width="1.55" stroke-dasharray="1.4 2.0"/>
<line x1="407.2" y1="156.9" x2="449.7" y2="156.9" stroke="#ff8000" stroke-width="1.4" stroke-dasharray="5.85 1.5"/>
<text transform="translate(347.0,100.5) scale(1.08,1)" font-family="Liberation Serif, serif" font-weight="bold" font-style="italic" font-size="12px">w</text>
<text x="355.6" y="102.7" font-family="Liberation Serif, serif" font-weight="bold" font-style="italic" font-size="8.5px">s</text>
<text x="532.3" y="217.3" text-anchor="middle" font-family="Liberation Serif, serif" font-weight="bold" font-style="italic" font-size="12px">r</text>
<path d="M505.00 244.80C497.53 251.00 497.53 260.60 505.00 266.80L505.45 266.35C499.45 260.20 499.45 251.40 505.45 245.25Z" fill="#000"/><text transform="translate(506.80,261.40) scale(1.033,1)" font-family="Liberation Serif, serif" font-size="22px">b</text><path d="M519.50 244.80C526.97 251.00 526.97 260.60 519.50 266.80L519.05 266.35C525.05 260.20 525.05 251.40 519.05 245.25Z" fill="#000"/>
<line x1="641.1" y1="20.1" x2="593.74" y2="99.21" stroke="#3a3a3a" stroke-width="0.85"/>
<path d="M588.30 108.30L591.39 96.51L593.74 99.21L597.23 100.01Z" fill="#000"/>
<clipPath id="clc"><rect x="30.2" y="306.3" width="307.1" height="189.7"/></clipPath>
<g clip-path="url(#clc)" fill="none" stroke-width="1.6" stroke-linejoin="round">
<polyline points="35.60,460.44 36.84,456.65 38.08,453.39 39.31,450.60 40.55,448.22 41.79,446.21 43.03,444.51 44.27,443.07 45.50,441.83 46.74,440.74 47.98,439.76 49.22,438.85 50.46,438.02 51.69,437.25 52.93,436.54 54.17,435.89 55.41,435.29 56.65,434.75 57.89,434.25 59.12,433.79 60.36,433.37 61.60,432.99 62.84,432.63 64.08,432.31 65.31,432.02 66.55,431.74 67.79,431.49 69.03,431.25 70.27,431.03 71.50,430.82 72.74,430.61 73.98,430.40 75.22,430.20 76.46,429.99 77.69,429.78 78.93,429.56 80.17,429.32 81.41,429.07 82.65,428.80 83.88,428.50 85.12,428.18 86.36,427.83 87.60,427.46 88.84,427.05 90.08,426.62 91.31,426.17 92.55,425.69 93.79,425.18 95.03,424.65 96.27,424.09 97.50,423.52 98.74,422.92 99.98,422.30 101.22,421.66 102.46,421.00 103.69,420.32 104.93,419.63 106.17,418.91 107.41,418.18 108.65,417.43 109.88,416.67 111.12,415.89 112.36,415.09 113.60,414.29 114.84,413.47 116.07,412.63 117.31,411.79 118.55,410.94 119.79,410.07 121.03,409.20 122.27,408.31 123.50,407.42 124.74,406.52 125.98,405.61 127.22,404.70 128.46,403.78 129.69,402.86 130.93,401.94 132.17,401.01 133.41,400.08 134.65,399.15 135.88,398.23 137.12,397.30 138.36,396.38 139.60,395.47 140.84,394.56 142.07,393.66 143.31,392.77 144.55,391.89 145.79,391.03 147.03,390.17 148.26,389.33 149.50,388.50 150.74,387.69 151.98,386.90 153.22,386.13 154.46,385.38 155.69,384.65 156.93,383.94 158.17,383.25 159.41,382.59 160.65,381.96 161.88,381.35 163.12,380.78 164.36,380.23 165.60,379.72 166.84,379.23 168.07,378.78 169.31,378.37 170.55,377.99 171.79,377.65 173.03,377.35 174.26,377.09 175.50,376.86 176.74,376.67 177.98,376.52 179.22,376.41 180.45,376.33 181.69,376.28 182.93,376.28 184.17,376.30 185.41,376.36 186.65,376.45 187.88,376.58 189.12,376.74 190.36,376.93 191.60,377.16 192.84,377.41 194.07,377.70 195.31,378.01 196.55,378.36 197.79,378.74 199.03,379.14 200.26,379.58 201.50,380.04 202.74,380.53 203.98,381.05 205.22,381.59 206.45,382.17 207.69,382.76 208.93,383.39 210.17,384.03 211.41,384.71 212.64,385.40 213.88,386.12 215.12,386.87 216.36,387.63 217.60,388.41 218.84,389.22 220.07,390.05 221.31,390.89 222.55,391.75 223.79,392.63 225.03,393.53 226.26,394.44 227.50,395.37 228.74,396.32 229.98,397.28 231.22,398.25 232.45,399.23 233.69,400.23 234.93,401.24 236.17,402.26 237.41,403.29 238.64,404.33 239.88,405.38 241.12,406.43 242.36,407.50 243.60,408.57 244.83,409.64 246.07,410.72 247.31,411.81 248.55,412.90 249.79,413.99 251.03,415.09 252.26,416.19 253.50,417.28 254.74,418.38 255.98,419.48 257.22,420.58 258.45,421.68 259.69,422.77 260.93,423.87 262.17,424.95 263.41,426.04 264.64,427.12 265.88,428.19 267.12,429.26 268.36,430.32 269.60,431.37 270.83,432.41 272.07,433.45 273.31,434.47 274.55,435.49 275.79,436.49 277.02,437.49 278.26,438.48 279.50,439.45 280.74,440.42 281.98,441.38 283.22,442.33 284.45,443.28 285.69,444.21 286.93,445.14 288.17,446.06 289.41,446.97 290.64,447.88 291.88,448.77 293.12,449.66 294.36,450.55 295.60,451.42 296.83,452.29 298.07,453.16 299.31,454.01 300.55,454.87 301.79,455.71 303.02,456.55 304.26,457.39 305.50,458.22 306.74,459.04 307.98,459.86 309.21,460.67 310.45,461.48 311.69,462.29 312.93,463.09 314.17,463.89 315.41,464.68 316.64,465.47 317.88,466.26 319.12,467.04 320.36,467.82 321.60,468.60 322.83,469.37 324.07,470.14 325.31,470.91 326.55,471.68 327.79,472.44 329.02,473.21 330.26,473.97 331.50,474.73" stroke="#000000"/>
<polyline points="35.60,458.79 36.84,456.32 38.08,454.03 39.31,451.91 40.55,449.96 41.79,448.16 43.03,446.51 44.27,445.00 45.50,443.62 46.74,442.37 47.98,441.23 49.22,440.19 50.46,439.26 51.69,438.41 52.93,437.65 54.17,436.96 55.41,436.34 56.65,435.77 57.89,435.26 59.12,434.78 60.36,434.35 61.60,433.96 62.84,433.60 64.08,433.26 65.31,432.96 66.55,432.67 67.79,432.41 69.03,432.15 70.27,431.92 71.50,431.68 72.74,431.46 73.98,431.23 75.22,431.00 76.46,430.77 77.69,430.52 78.93,430.26 80.17,429.99 81.41,429.69 82.65,429.38 83.88,429.03 85.12,428.65 86.36,428.24 87.60,427.79 88.84,427.32 90.08,426.81 91.31,426.27 92.55,425.70 93.79,425.10 95.03,424.48 96.27,423.82 97.50,423.15 98.74,422.45 99.98,421.72 101.22,420.97 102.46,420.20 103.69,419.41 104.93,418.60 106.17,417.77 107.41,416.93 108.65,416.06 109.88,415.18 111.12,414.29 112.36,413.38 113.60,412.46 114.84,411.53 116.07,410.58 117.31,409.63 118.55,408.66 119.79,407.69 121.03,406.71 122.27,405.73 123.50,404.74 124.74,403.74 125.98,402.74 127.22,401.74 128.46,400.74 129.69,399.74 130.93,398.74 132.17,397.74 133.41,396.74 134.65,395.75 135.88,394.76 137.12,393.77 138.36,392.80 139.60,391.83 140.84,390.86 142.07,389.91 143.31,388.97 144.55,388.04 145.79,387.12 147.03,386.21 148.26,385.32 149.50,384.45 150.74,383.59 151.98,382.75 153.22,381.93 154.46,381.13 155.69,380.34 156.93,379.58 158.17,378.85 159.41,378.14 160.65,377.45 161.88,376.79 163.12,376.15 164.36,375.54 165.60,374.97 166.84,374.42 168.07,373.90 169.31,373.42 170.55,372.97 171.79,372.55 173.03,372.17 174.26,371.82 175.50,371.52 176.74,371.25 177.98,371.02 179.22,370.83 180.45,370.68 181.69,370.58 182.93,370.52 184.17,370.50 185.41,370.53 186.65,370.60 187.88,370.72 189.12,370.87 190.36,371.07 191.60,371.31 192.84,371.59 194.07,371.91 195.31,372.26 196.55,372.66 197.79,373.09 199.03,373.55 200.26,374.05 201.50,374.58 202.74,375.14 203.98,375.74 205.22,376.37 206.45,377.02 207.69,377.71 208.93,378.42 210.17,379.17 211.41,379.93 212.64,380.73 213.88,381.55 215.12,382.39 216.36,383.25 217.60,384.14 218.84,385.05 220.07,385.98 221.31,386.93 222.55,387.90 223.79,388.88 225.03,389.89 226.26,390.90 227.50,391.94 228.74,392.99 229.98,394.05 231.22,395.12 232.45,396.21 233.69,397.30 234.93,398.41 236.17,399.53 237.41,400.65 238.64,401.78 239.88,402.92 241.12,404.07 242.36,405.21 243.60,406.37 244.83,407.52 246.07,408.68 247.31,409.84 248.55,411.01 249.79,412.18 251.03,413.35 252.26,414.52 253.50,415.69 254.74,416.86 255.98,418.03 257.22,419.21 258.45,420.38 259.69,421.55 260.93,422.72 262.17,423.89 263.41,425.06 264.64,426.23 265.88,427.39 267.12,428.55 268.36,429.71 269.60,430.86 270.83,432.01 272.07,433.15 273.31,434.29 274.55,435.43 275.79,436.56 277.02,437.68 278.26,438.80 279.50,439.91 280.74,441.01 281.98,442.11 283.22,443.20 284.45,444.28 285.69,445.35 286.93,446.42 288.17,447.47 289.41,448.52 290.64,449.55 291.88,450.58 293.12,451.60 294.36,452.60 295.60,453.59 296.83,454.57 298.07,455.54 299.31,456.50 300.55,457.44 301.79,458.37 303.02,459.29 304.26,460.19 305.50,461.08 306.74,461.96 307.98,462.81 309.21,463.66 310.45,464.49 311.69,465.30 312.93,466.10 314.17,466.87 315.41,467.64 316.64,468.38 317.88,469.11 319.12,469.82 320.36,470.51 321.60,471.18 322.83,471.83 324.07,472.46 325.31,473.07 326.55,473.66 327.79,474.23 329.02,474.78 330.26,475.31 331.50,475.81" stroke="#0000ff" stroke-dasharray="13.2 5.2 2 5.2" stroke-dashoffset="5.8"/>
<polyline points="35.60,452.63 36.84,452.37 38.08,452.13 39.31,451.89 40.55,451.67 41.79,451.45 43.03,451.24 44.27,451.04 45.50,450.84 46.74,450.63 47.98,450.43 49.22,450.22 50.46,450.01 51.69,449.79 52.93,449.57 54.17,449.33 55.41,449.08 56.65,448.81 57.89,448.53 59.12,448.23 60.36,447.91 61.60,447.57 62.84,447.21 64.08,446.82 65.31,446.40 66.55,445.95 67.79,445.47 69.03,444.96 70.27,444.41 71.50,443.83 72.74,443.20 73.98,442.54 75.22,441.83 76.46,441.08 77.69,440.29 78.93,439.44 80.17,438.56 81.41,437.63 82.65,436.65 83.88,435.63 85.12,434.56 86.36,433.45 87.60,432.28 88.84,431.07 90.08,429.82 91.31,428.51 92.55,427.16 93.79,425.76 95.03,424.31 96.27,422.81 97.50,421.27 98.74,419.69 99.98,418.07 101.22,416.42 102.46,414.73 103.69,413.02 104.93,411.27 106.17,409.50 107.41,407.71 108.65,405.90 109.88,404.07 111.12,402.23 112.36,400.37 113.60,398.51 114.84,396.64 116.07,394.76 117.31,392.89 118.55,391.01 119.79,389.14 121.03,387.28 122.27,385.42 123.50,383.58 124.74,381.75 125.98,379.93 127.22,378.14 128.46,376.36 129.69,374.61 130.93,372.87 132.17,371.16 133.41,369.46 134.65,367.79 135.88,366.15 137.12,364.52 138.36,362.93 139.60,361.35 140.84,359.80 142.07,358.28 143.31,356.79 144.55,355.32 145.79,353.88 147.03,352.47 148.26,351.09 149.50,349.74 150.74,348.42 151.98,347.14 153.22,345.88 154.46,344.66 155.69,343.47 156.93,342.32 158.17,341.20 159.41,340.12 160.65,339.08 161.88,338.08 163.12,337.13 164.36,336.22 165.60,335.35 166.84,334.53 168.07,333.76 169.31,333.04 170.55,332.37 171.79,331.76 173.03,331.20 174.26,330.70 175.50,330.26 176.74,329.88 177.98,329.55 179.22,329.30 180.45,329.11 181.69,328.98 182.93,328.92 184.17,328.94 185.41,329.02 186.65,329.17 187.88,329.39 189.12,329.68 190.36,330.03 191.60,330.44 192.84,330.92 194.07,331.46 195.31,332.06 196.55,332.72 197.79,333.44 199.03,334.22 200.26,335.05 201.50,335.94 202.74,336.88 203.98,337.87 205.22,338.91 206.45,340.01 207.69,341.15 208.93,342.34 210.17,343.57 211.41,344.85 212.64,346.18 213.88,347.54 215.12,348.95 216.36,350.39 217.60,351.86 218.84,353.37 220.07,354.90 221.31,356.47 222.55,358.06 223.79,359.67 225.03,361.31 226.26,362.97 227.50,364.65 228.74,366.34 229.98,368.04 231.22,369.76 232.45,371.49 233.69,373.22 234.93,374.96 236.17,376.71 237.41,378.46 238.64,380.22 239.88,381.98 241.12,383.76 242.36,385.54 243.60,387.34 244.83,389.15 246.07,390.97 247.31,392.81 248.55,394.66 249.79,396.53 251.03,398.42 252.26,400.33 253.50,402.26 254.74,404.21 255.98,406.18 257.22,408.18 258.45,410.20 259.69,412.23 260.93,414.28 262.17,416.35 263.41,418.41 264.64,420.49 265.88,422.56 267.12,424.63 268.36,426.70 269.60,428.76 270.83,430.81 272.07,432.84 273.31,434.85 274.55,436.85 275.79,438.81 277.02,440.75 278.26,442.66 279.50,444.54 280.74,446.37 281.98,448.16 283.22,449.91 284.45,451.62 285.69,453.27 286.93,454.87 288.17,456.41 289.41,457.91 290.64,459.36 291.88,460.76 293.12,462.11 294.36,463.41 295.60,464.67 296.83,465.88 298.07,467.05 299.31,468.17 300.55,469.25 301.79,470.28 303.02,471.27 304.26,472.22 305.50,473.13 306.74,474.01 307.98,474.84 309.21,475.63 310.45,476.39 311.69,477.12 312.93,477.81 314.17,478.47 315.41,479.09 316.64,479.69 317.88,480.25 319.12,480.79 320.36,481.30 321.60,481.78 322.83,482.24 324.07,482.68 325.31,483.09 326.55,483.47 327.79,483.84 329.02,484.19 330.26,484.52 331.50,484.83" stroke="#ff0000" stroke-dasharray="3.7 1.6"/>
<polyline points="35.60,452.31 36.84,452.22 38.08,452.16 39.31,452.11 40.55,452.08 41.79,452.06 43.03,452.04 44.27,452.03 45.50,452.03 46.74,452.02 47.98,452.01 49.22,451.99 50.46,451.97 51.69,451.93 52.93,451.87 54.17,451.80 55.41,451.71 56.65,451.59 57.89,451.45 59.12,451.27 60.36,451.06 61.60,450.82 62.84,450.54 64.08,450.21 65.31,449.85 66.55,449.43 67.79,448.96 69.03,448.44 70.27,447.87 71.50,447.23 72.74,446.54 73.98,445.77 75.22,444.94 76.46,444.04 77.69,443.07 78.93,442.04 80.17,440.94 81.41,439.78 82.65,438.57 83.88,437.29 85.12,435.96 86.36,434.58 87.60,433.15 88.84,431.67 90.08,430.14 91.31,428.57 92.55,426.95 93.79,425.30 95.03,423.61 96.27,421.88 97.50,420.12 98.74,418.33 99.98,416.51 101.22,414.66 102.46,412.79 103.69,410.90 104.93,408.98 106.17,407.05 107.41,405.09 108.65,403.13 109.88,401.14 111.12,399.15 112.36,397.14 113.60,395.13 114.84,393.10 116.07,391.07 117.31,389.04 118.55,387.00 119.79,384.96 121.03,382.92 122.27,380.89 123.50,378.86 124.74,376.83 125.98,374.81 127.22,372.80 128.46,370.80 129.69,368.81 130.93,366.84 132.17,364.88 133.41,362.94 134.65,361.01 135.88,359.11 137.12,357.23 138.36,355.37 139.60,353.54 140.84,351.73 142.07,349.96 143.31,348.21 144.55,346.48 145.79,344.79 147.03,343.13 148.26,341.50 149.50,339.89 150.74,338.32 151.98,336.78 153.22,335.26 154.46,333.78 155.69,332.33 156.93,330.92 158.17,329.54 159.41,328.21 160.65,326.93 161.88,325.70 163.12,324.53 164.36,323.43 165.60,322.40 166.84,321.45 168.07,320.57 169.31,319.76 170.55,319.04 171.79,318.38 173.03,317.80 174.26,317.29 175.50,316.85 176.74,316.48 177.98,316.18 179.22,315.95 180.45,315.79 181.69,315.70 182.93,315.67 184.17,315.71 185.41,315.82 186.65,315.99 187.88,316.22 189.12,316.52 190.36,316.88 191.60,317.30 192.84,317.78 194.07,318.32 195.31,318.92 196.55,319.58 197.79,320.30 199.03,321.08 200.26,321.91 201.50,322.80 202.74,323.74 203.98,324.74 205.22,325.79 206.45,326.89 207.69,328.05 208.93,329.25 210.17,330.51 211.41,331.82 212.64,333.17 213.88,334.57 215.12,336.03 216.36,337.52 217.60,339.07 218.84,340.66 220.07,342.29 221.31,343.97 222.55,345.69 223.79,347.45 225.03,349.25 226.26,351.10 227.50,352.98 228.74,354.89 229.98,356.84 231.22,358.82 232.45,360.84 233.69,362.88 234.93,364.96 236.17,367.06 237.41,369.18 238.64,371.33 239.88,373.51 241.12,375.70 242.36,377.92 243.60,380.15 244.83,382.40 246.07,384.66 247.31,386.94 248.55,389.23 249.79,391.53 251.03,393.84 252.26,396.16 253.50,398.48 254.74,400.81 255.98,403.15 257.22,405.48 258.45,407.82 259.69,410.15 260.93,412.48 262.17,414.81 263.41,417.13 264.64,419.45 265.88,421.75 267.12,424.05 268.36,426.33 269.60,428.61 270.83,430.86 272.07,433.11 273.31,435.33 274.55,437.53 275.79,439.71 277.02,441.85 278.26,443.96 279.50,446.03 280.74,448.06 281.98,450.03 283.22,451.95 284.45,453.81 285.69,455.60 286.93,457.33 288.17,459.00 289.41,460.61 290.64,462.15 291.88,463.64 293.12,465.08 294.36,466.46 295.60,467.78 296.83,469.06 298.07,470.29 299.31,471.47 300.55,472.61 301.79,473.69 303.02,474.74 304.26,475.74 305.50,476.69 306.74,477.60 307.98,478.47 309.21,479.29 310.45,480.08 311.69,480.82 312.93,481.52 314.17,482.18 315.41,482.80 316.64,483.37 317.88,483.91 319.12,484.39 320.36,484.84 321.60,485.23 322.83,485.58 324.07,485.88 325.31,486.13 326.55,486.33 327.79,486.48 329.02,486.57 330.26,486.62 331.50,486.60" stroke="#ff8000" stroke-dasharray="10.9 7.3"/>
</g>
<path d="M50.40 496.0v-1.5M50.40 306.3v1.5M65.19 496.0v-1.5M65.19 306.3v1.5M79.99 496.0v-1.5M79.99 306.3v1.5M94.78 496.0v-1.5M94.78 306.3v1.5M124.37 496.0v-1.5M124.37 306.3v1.5M139.17 496.0v-1.5M139.17 306.3v1.5M153.96 496.0v-1.5M153.96 306.3v1.5M168.76 496.0v-1.5M168.76 306.3v1.5M198.34 496.0v-1.5M198.34 306.3v1.5M213.14 496.0v-1.5M213.14 306.3v1.5M227.94 496.0v-1.5M227.94 306.3v1.5M242.73 496.0v-1.5M242.73 306.3v1.5M272.32 496.0v-1.5M272.32 306.3v1.5M287.12 496.0v-1.5M287.12 306.3v1.5M301.91 496.0v-1.5M301.91 306.3v1.5M316.71 496.0v-1.5M316.71 306.3v1.5M30.2 486.36h1.5M337.3 486.36h-1.5M30.2 476.67h1.5M337.3 476.67h-1.5M30.2 466.99h1.5M337.3 466.99h-1.5M30.2 447.62h1.5M337.3 447.62h-1.5M30.2 437.93h1.5M337.3 437.93h-1.5M30.2 428.25h1.5M337.3 428.25h-1.5M30.2 408.88h1.5M337.3 408.88h-1.5M30.2 399.19h1.5M337.3 399.19h-1.5M30.2 389.50h1.5M337.3 389.50h-1.5M30.2 370.13h1.5M337.3 370.13h-1.5M30.2 360.45h1.5M337.3 360.45h-1.5M30.2 350.76h1.5M337.3 350.76h-1.5M30.2 331.39h1.5M337.3 331.39h-1.5M30.2 321.71h1.5M337.3 321.71h-1.5M30.2 312.02h1.5M337.3 312.02h-1.5" stroke="#9a9a9a" stroke-width="0.8" fill="none"/>
<path d="M35.60 496.0v-2.7M35.60 306.3v2.7M109.58 496.0v-2.7M109.58 306.3v2.7M183.55 496.0v-2.7M183.55 306.3v2.7M257.52 496.0v-2.7M257.52 306.3v2.7M331.50 496.0v-2.7M331.50 306.3v2.7M30.2 457.30h2.7M337.3 457.30h-2.7M30.2 418.56h2.7M337.3 418.56h-2.7M30.2 379.82h2.7M337.3 379.82h-2.7M30.2 341.08h2.7M337.3 341.08h-2.7" stroke="#6a6a6a" stroke-width="0.85" fill="none"/>
<rect x="30.2" y="306.3" width="307.10" height="189.70" fill="none" stroke="#bebebe" stroke-width="1.05"/>
<g font-family="Liberation Serif, serif" font-weight="bold" font-size="11px" fill="#000" stroke="#000" stroke-width="0.12" stroke-linejoin="round">
<text x="32.09" y="508.70">1.0</text><rect x="25.77" y="505.32" width="6.0" height="1.25" fill="#000"/>
<text x="106.29" y="508.70">0.5</text><rect x="99.51" y="505.32" width="6.0" height="1.25" fill="#000"/>
<text x="176.68" y="508.70">0.0</text>
<text x="250.64" y="508.70">0.5</text>
<text x="324.39" y="508.70">1.0</text>
<text x="22.47" y="499.74">2</text><rect x="15.73" y="496.37" width="6.0" height="1.25" fill="#000"/>
<text x="22.42" y="461.00">0</text>
<text x="22.47" y="422.26">2</text>
<text x="22.20" y="383.52">4</text>
<text x="22.32" y="344.78">6</text>
<text x="80.0" y="331.6" xml:space="preserve"><tspan>Gr = −15</tspan></text>
<text x="80.4" y="350.8" xml:space="preserve"><tspan>Gr = −10</tspan></text>
<text x="81.9" y="370.3" xml:space="preserve"><tspan>Gr =</tspan><tspan x="113.2">5</tspan></text>
<text x="80.7" y="389.5" xml:space="preserve"><tspan>Gr =</tspan><tspan x="112.5">8</tspan></text>
</g>
<line x1="37.0" y1="331.1" x2="77.0" y2="331.1" stroke="#505050" stroke-width="1.6"/>
<line x1="37.3" y1="348.2" x2="77.0" y2="348.2" stroke="#0000ff" stroke-width="1.3" stroke-dasharray="1.1 1.8 5.6 1.7"/>
<line x1="37.3" y1="367.6" x2="78.6" y2="367.6" stroke="#ff0000" stroke-width="1.55" stroke-dasharray="1.4 2.0"/>
<line x1="35.5" y1="386.6" x2="77.9" y2="386.6" stroke="#ff8000" stroke-width="1.4" stroke-dasharray="5.85 1.5"/>
<text transform="translate(0.0,405.5) scale(1.08,1)" font-family="Liberation Serif, serif" font-weight="bold" font-style="italic" font-size="12px">w</text>
<text x="8.6" y="407.7" font-family="Liberation Serif, serif" font-weight="bold" font-style="italic" font-size="8.5px">s</text>
<text x="183.0" y="524.0" text-anchor="middle" font-family="Liberation Serif, serif" font-weight="bold" font-style="italic" font-size="12px">r</text>
<path d="M158.70 549.90C151.23 556.10 151.23 565.70 158.70 571.90L159.15 571.45C153.15 565.30 153.15 556.50 159.15 550.35Z" fill="#000"/><text transform="translate(159.73,566.50) scale(1.042,1)" font-family="Liberation Serif, serif" font-size="22px">c</text><path d="M170.60 549.90C178.07 556.10 178.07 565.70 170.60 571.90L170.15 571.45C176.15 565.30 176.15 556.50 170.15 550.35Z" fill="#000"/>
<line x1="198.4" y1="410.0" x2="234.27" y2="329.78" stroke="#3a3a3a" stroke-width="0.85"/>
<path d="M238.60 320.10L236.93 332.17L234.27 329.78L230.72 329.39Z" fill="#000"/>
<clipPath id="cld"><rect x="374.9" y="305.0" width="309.6" height="191.0"/></clipPath>
<g clip-path="url(#cld)" fill="none" stroke-width="1.6" stroke-linejoin="round">
<polyline points="381.20,456.78 382.45,456.49 383.69,456.19 384.94,455.90 386.18,455.59 387.43,455.29 388.67,454.98 389.92,454.66 391.16,454.34 392.41,454.02 393.65,453.69 394.90,453.36 396.14,453.03 397.39,452.69 398.63,452.35 399.88,452.01 401.12,451.66 402.37,451.31 403.61,450.96 404.86,450.61 406.10,450.25 407.35,449.89 408.59,449.53 409.84,449.17 411.08,448.80 412.33,448.44 413.57,448.07 414.82,447.70 416.07,447.33 417.31,446.95 418.56,446.58 419.80,446.20 421.05,445.83 422.29,445.45 423.54,445.07 424.78,444.69 426.03,444.31 427.27,443.93 428.52,443.55 429.76,443.17 431.01,442.79 432.25,442.41 433.50,442.03 434.74,441.65 435.99,441.28 437.23,440.90 438.48,440.52 439.72,440.14 440.97,439.77 442.21,439.39 443.46,439.02 444.70,438.65 445.95,438.28 447.19,437.91 448.44,437.54 449.69,437.17 450.93,436.81 452.18,436.45 453.42,436.09 454.67,435.73 455.91,435.38 457.16,435.02 458.40,434.67 459.65,434.33 460.89,433.98 462.14,433.64 463.38,433.30 464.63,432.97 465.87,432.64 467.12,432.31 468.36,431.99 469.61,431.67 470.85,431.35 472.10,431.04 473.34,430.73 474.59,430.42 475.83,430.12 477.08,429.83 478.32,429.54 479.57,429.25 480.82,428.97 482.06,428.69 483.31,428.42 484.55,428.16 485.80,427.89 487.04,427.64 488.29,427.39 489.53,427.15 490.78,426.91 492.02,426.67 493.27,426.45 494.51,426.23 495.76,426.01 497.00,425.81 498.25,425.61 499.49,425.41 500.74,425.22 501.98,425.04 503.23,424.87 504.47,424.70 505.72,424.54 506.96,424.39 508.21,424.25 509.45,424.11 510.70,423.98 511.94,423.86 513.19,423.75 514.44,423.64 515.68,423.55 516.93,423.46 518.17,423.38 519.42,423.31 520.66,423.24 521.91,423.19 523.15,423.15 524.40,423.11 525.64,423.08 526.89,423.07 528.13,423.06 529.38,423.06 530.62,423.07 531.87,423.09 533.11,423.12 534.36,423.16 535.60,423.21 536.85,423.27 538.09,423.34 539.34,423.42 540.58,423.50 541.83,423.60 543.07,423.70 544.32,423.81 545.56,423.93 546.81,424.06 548.06,424.20 549.30,424.34 550.55,424.49 551.79,424.65 553.04,424.82 554.28,425.00 555.53,425.18 556.77,425.37 558.02,425.57 559.26,425.78 560.51,425.99 561.75,426.21 563.00,426.43 564.24,426.67 565.49,426.91 566.73,427.15 567.98,427.40 569.22,427.66 570.47,427.93 571.71,428.20 572.96,428.47 574.20,428.76 575.45,429.04 576.69,429.34 577.94,429.64 579.18,429.94 580.43,430.25 581.68,430.56 582.92,430.88 584.17,431.21 585.41,431.54 586.66,431.87 587.90,432.21 589.15,432.55 590.39,432.90 591.64,433.25 592.88,433.61 594.13,433.96 595.37,434.33 596.62,434.69 597.86,435.06 599.11,435.44 600.35,435.82 601.60,436.20 602.84,436.58 604.09,436.97 605.33,437.35 606.58,437.75 607.82,438.14 609.07,438.54 610.31,438.94 611.56,439.34 612.81,439.75 614.05,440.15 615.30,440.56 616.54,440.97 617.79,441.38 619.03,441.80 620.28,442.21 621.52,442.63 622.77,443.05 624.01,443.47 625.26,443.89 626.50,444.31 627.75,444.73 628.99,445.15 630.24,445.58 631.48,446.00 632.73,446.43 633.97,446.85 635.22,447.27 636.46,447.70 637.71,448.12 638.95,448.55 640.20,448.97 641.44,449.40 642.69,449.82 643.93,450.24 645.18,450.66 646.43,451.09 647.67,451.51 648.92,451.92 650.16,452.34 651.41,452.76 652.65,453.17 653.90,453.59 655.14,454.00 656.39,454.41 657.63,454.82 658.88,455.22 660.12,455.62 661.37,456.03 662.61,456.42 663.86,456.82 665.10,457.22 666.35,457.61 667.59,457.99 668.84,458.38 670.08,458.76 671.33,459.14 672.57,459.52 673.82,459.89 675.06,460.26 676.31,460.62 677.55,460.99 678.80,461.34" stroke="#000000"/>
<polyline points="381.20,451.80 382.45,451.85 383.69,451.88 384.94,451.89 386.18,451.88 387.43,451.85 388.67,451.80 389.92,451.72 391.16,451.63 392.41,451.52 393.65,451.39 394.90,451.24 396.14,451.08 397.39,450.89 398.63,450.69 399.88,450.47 401.12,450.24 402.37,449.98 403.61,449.72 404.86,449.43 406.10,449.13 407.35,448.82 408.59,448.49 409.84,448.15 411.08,447.79 412.33,447.42 413.57,447.03 414.82,446.63 416.07,446.22 417.31,445.80 418.56,445.36 419.80,444.91 421.05,444.45 422.29,443.98 423.54,443.50 424.78,443.01 426.03,442.50 427.27,441.99 428.52,441.47 429.76,440.94 431.01,440.40 432.25,439.85 433.50,439.29 434.74,438.73 435.99,438.15 437.23,437.57 438.48,436.99 439.72,436.39 440.97,435.79 442.21,435.19 443.46,434.58 444.70,433.96 445.95,433.34 447.19,432.71 448.44,432.08 449.69,431.45 450.93,430.81 452.18,430.17 453.42,429.52 454.67,428.88 455.91,428.23 457.16,427.58 458.40,426.92 459.65,426.27 460.89,425.61 462.14,424.96 463.38,424.30 464.63,423.64 465.87,422.99 467.12,422.33 468.36,421.68 469.61,421.02 470.85,420.37 472.10,419.72 473.34,419.07 474.59,418.43 475.83,417.79 477.08,417.15 478.32,416.51 479.57,415.88 480.82,415.25 482.06,414.63 483.31,414.01 484.55,413.40 485.80,412.79 487.04,412.19 488.29,411.60 489.53,411.01 490.78,410.43 492.02,409.87 493.27,409.30 494.51,408.75 495.76,408.21 497.00,407.68 498.25,407.17 499.49,406.66 500.74,406.16 501.98,405.68 503.23,405.22 504.47,404.76 505.72,404.32 506.96,403.90 508.21,403.49 509.45,403.10 510.70,402.73 511.94,402.37 513.19,402.04 514.44,401.72 515.68,401.42 516.93,401.14 518.17,400.88 519.42,400.64 520.66,400.42 521.91,400.22 523.15,400.05 524.40,399.90 525.64,399.77 526.89,399.67 528.13,399.60 529.38,399.54 530.62,399.52 531.87,399.52 533.11,399.55 534.36,399.60 535.60,399.67 536.85,399.78 538.09,399.90 539.34,400.05 540.58,400.22 541.83,400.42 543.07,400.63 544.32,400.87 545.56,401.13 546.81,401.41 548.06,401.72 549.30,402.04 550.55,402.38 551.79,402.74 553.04,403.12 554.28,403.52 555.53,403.94 556.77,404.38 558.02,404.83 559.26,405.30 560.51,405.79 561.75,406.29 563.00,406.81 564.24,407.35 565.49,407.90 566.73,408.46 567.98,409.04 569.22,409.63 570.47,410.23 571.71,410.85 572.96,411.48 574.20,412.12 575.45,412.78 576.69,413.44 577.94,414.12 579.18,414.80 580.43,415.50 581.68,416.20 582.92,416.91 584.17,417.63 585.41,418.36 586.66,419.10 587.90,419.84 589.15,420.59 590.39,421.35 591.64,422.11 592.88,422.88 594.13,423.65 595.37,424.43 596.62,425.21 597.86,426.00 599.11,426.78 600.35,427.57 601.60,428.37 602.84,429.16 604.09,429.96 605.33,430.75 606.58,431.55 607.82,432.35 609.07,433.15 610.31,433.94 611.56,434.74 612.81,435.53 614.05,436.32 615.30,437.11 616.54,437.89 617.79,438.68 619.03,439.45 620.28,440.23 621.52,441.00 622.77,441.76 624.01,442.52 625.26,443.27 626.50,444.02 627.75,444.76 628.99,445.49 630.24,446.21 631.48,446.93 632.73,447.63 633.97,448.33 635.22,449.02 636.46,449.70 637.71,450.36 638.95,451.02 640.20,451.67 641.44,452.30 642.69,452.92 643.93,453.53 645.18,454.13 646.43,454.71 647.67,455.28 648.92,455.83 650.16,456.37 651.41,456.89 652.65,457.40 653.90,457.89 655.14,458.37 656.39,458.83 657.63,459.27 658.88,459.69 660.12,460.09 661.37,460.48 662.61,460.85 663.86,461.19 665.10,461.52 666.35,461.83 667.59,462.11 668.84,462.38 670.08,462.62 671.33,462.84 672.57,463.04 673.82,463.21 675.06,463.36 676.31,463.49 677.55,463.59 678.80,463.67" stroke="#0000ff" stroke-dasharray="13.2 5.2 2 5.2" stroke-dashoffset="5.8"/>
<polyline points="381.20,446.20 382.45,446.02 383.69,445.85 384.94,445.71 386.18,445.59 387.43,445.48 388.67,445.39 389.92,445.31 391.16,445.24 392.41,445.18 393.65,445.13 394.90,445.08 396.14,445.03 397.39,444.98 398.63,444.93 399.88,444.88 401.12,444.82 402.37,444.76 403.61,444.68 404.86,444.59 406.10,444.49 407.35,444.38 408.59,444.24 409.84,444.09 411.08,443.91 412.33,443.71 413.57,443.49 414.82,443.23 416.07,442.95 417.31,442.64 418.56,442.29 419.80,441.91 421.05,441.49 422.29,441.04 423.54,440.55 424.78,440.03 426.03,439.48 427.27,438.90 428.52,438.29 429.76,437.64 431.01,436.97 432.25,436.26 433.50,435.53 434.74,434.77 435.99,433.98 437.23,433.17 438.48,432.33 439.72,431.46 440.97,430.57 442.21,429.65 443.46,428.71 444.70,427.75 445.95,426.76 447.19,425.75 448.44,424.72 449.69,423.67 450.93,422.60 452.18,421.50 453.42,420.39 454.67,419.27 455.91,418.12 457.16,416.97 458.40,415.79 459.65,414.61 460.89,413.41 462.14,412.21 463.38,410.99 464.63,409.77 465.87,408.54 467.12,407.31 468.36,406.07 469.61,404.83 470.85,403.59 472.10,402.35 473.34,401.10 474.59,399.86 475.83,398.63 477.08,397.40 478.32,396.17 479.57,394.95 480.82,393.74 482.06,392.54 483.31,391.34 484.55,390.16 485.80,389.00 487.04,387.84 488.29,386.71 489.53,385.58 490.78,384.48 492.02,383.40 493.27,382.33 494.51,381.29 495.76,380.27 497.00,379.27 498.25,378.30 499.49,377.35 500.74,376.43 501.98,375.54 503.23,374.68 504.47,373.85 505.72,373.06 506.96,372.29 508.21,371.56 509.45,370.87 510.70,370.21 511.94,369.60 513.19,369.02 514.44,368.48 515.68,367.98 516.93,367.53 518.17,367.12 519.42,366.75 520.66,366.42 521.91,366.14 523.15,365.89 524.40,365.69 525.64,365.53 526.89,365.41 528.13,365.33 529.38,365.30 530.62,365.30 531.87,365.35 533.11,365.43 534.36,365.56 535.60,365.72 536.85,365.93 538.09,366.18 539.34,366.46 540.58,366.79 541.83,367.16 543.07,367.56 544.32,368.01 545.56,368.49 546.81,369.02 548.06,369.58 549.30,370.18 550.55,370.82 551.79,371.50 553.04,372.22 554.28,372.97 555.53,373.77 556.77,374.60 558.02,375.47 559.26,376.37 560.51,377.32 561.75,378.30 563.00,379.32 564.24,380.38 565.49,381.47 566.73,382.60 567.98,383.75 569.22,384.93 570.47,386.14 571.71,387.38 572.96,388.63 574.20,389.90 575.45,391.19 576.69,392.49 577.94,393.80 579.18,395.12 580.43,396.45 581.68,397.78 582.92,399.12 584.17,400.45 585.41,401.78 586.66,403.11 587.90,404.42 589.15,405.73 590.39,407.03 591.64,408.31 592.88,409.59 594.13,410.87 595.37,412.13 596.62,413.40 597.86,414.65 599.11,415.91 600.35,417.16 601.60,418.42 602.84,419.67 604.09,420.93 605.33,422.18 606.58,423.45 607.82,424.71 609.07,425.98 610.31,427.26 611.56,428.54 612.81,429.83 614.05,431.11 615.30,432.39 616.54,433.67 617.79,434.95 619.03,436.22 620.28,437.49 621.52,438.75 622.77,440.00 624.01,441.24 625.26,442.46 626.50,443.68 627.75,444.87 628.99,446.06 630.24,447.22 631.48,448.36 632.73,449.49 633.97,450.59 635.22,451.67 636.46,452.72 637.71,453.75 638.95,454.74 640.20,455.71 641.44,456.65 642.69,457.56 643.93,458.43 645.18,459.27 646.43,460.07 647.67,460.83 648.92,461.56 650.16,462.24 651.41,462.88 652.65,463.48 653.90,464.03 655.14,464.54 656.39,465.00 657.63,465.41 658.88,465.79 660.12,466.13 661.37,466.42 662.61,466.69 663.86,466.91 665.10,467.11 666.35,467.27 667.59,467.41 668.84,467.52 670.08,467.60 671.33,467.66 672.57,467.70 673.82,467.72 675.06,467.72 676.31,467.71 677.55,467.68 678.80,467.64" stroke="#ff0000" stroke-dasharray="3.7 1.6"/>
<polyline points="381.20,439.38 382.45,439.02 383.69,438.72 384.94,438.49 386.18,438.32 387.43,438.19 388.67,438.12 389.92,438.10 391.16,438.11 392.41,438.15 393.65,438.23 394.90,438.33 396.14,438.46 397.39,438.60 398.63,438.75 399.88,438.91 401.12,439.07 402.37,439.22 403.61,439.37 404.86,439.51 406.10,439.63 407.35,439.73 408.59,439.80 409.84,439.84 411.08,439.85 412.33,439.81 413.57,439.73 414.82,439.61 416.07,439.42 417.31,439.18 418.56,438.87 419.80,438.50 421.05,438.05 422.29,437.52 423.54,436.92 424.78,436.25 426.03,435.52 427.27,434.72 428.52,433.86 429.76,432.94 431.01,431.97 432.25,430.94 433.50,429.87 434.74,428.75 435.99,427.58 437.23,426.38 438.48,425.14 439.72,423.87 440.97,422.57 442.21,421.24 443.46,419.88 444.70,418.51 445.95,417.11 447.19,415.71 448.44,414.29 449.69,412.86 450.93,411.42 452.18,409.98 453.42,408.54 454.67,407.10 455.91,405.63 457.16,404.10 458.40,402.47 459.65,400.74 460.89,398.93 462.14,397.05 463.38,395.11 464.63,393.12 465.87,391.09 467.12,389.03 468.36,386.96 469.61,384.88 470.85,382.80 472.10,380.71 473.34,378.64 474.59,376.56 475.83,374.50 477.08,372.44 478.32,370.40 479.57,368.37 480.82,366.36 482.06,364.37 483.31,362.40 484.55,360.45 485.80,358.53 487.04,356.63 488.29,354.77 489.53,352.94 490.78,351.15 492.02,349.39 493.27,347.68 494.51,346.00 495.76,344.37 497.00,342.79 498.25,341.26 499.49,339.77 500.74,338.34 501.98,336.97 503.23,335.64 504.47,334.37 505.72,333.16 506.96,332.00 508.21,330.89 509.45,329.84 510.70,328.85 511.94,327.91 513.19,327.02 514.44,326.20 515.68,325.43 516.93,324.72 518.17,324.07 519.42,323.47 520.66,322.94 521.91,322.46 523.15,322.04 524.40,321.69 525.64,321.39 526.89,321.15 528.13,320.98 529.38,320.86 530.62,320.81 531.87,320.82 533.11,320.90 534.36,321.03 535.60,321.23 536.85,321.50 538.09,321.82 539.34,322.21 540.58,322.67 541.83,323.19 543.07,323.78 544.32,324.43 545.56,325.16 546.81,325.94 548.06,326.80 549.30,327.72 550.55,328.71 551.79,329.77 553.04,330.89 554.28,332.08 555.53,333.33 556.77,334.65 558.02,336.02 559.26,337.45 560.51,338.94 561.75,340.48 563.00,342.07 564.24,343.71 565.49,345.40 566.73,347.14 567.98,348.92 569.22,350.74 570.47,352.61 571.71,354.51 572.96,356.45 574.20,358.43 575.45,360.43 576.69,362.47 577.94,364.54 579.18,366.64 580.43,368.76 581.68,370.91 582.92,373.08 584.17,375.27 585.41,377.48 586.66,379.70 587.90,381.94 589.15,384.20 590.39,386.46 591.64,388.73 592.88,391.00 594.13,393.27 595.37,395.54 596.62,397.81 597.86,400.06 599.11,402.30 600.35,404.53 601.60,406.74 602.84,408.92 604.09,411.08 605.33,413.21 606.58,415.30 607.82,417.36 609.07,419.38 610.31,421.37 611.56,423.32 612.81,425.23 614.05,427.11 615.30,428.97 616.54,430.79 617.79,432.59 619.03,434.36 620.28,436.12 621.52,437.85 622.77,439.57 624.01,441.27 625.26,442.95 626.50,444.63 627.75,446.30 628.99,447.95 630.24,449.58 631.48,451.19 632.73,452.76 633.97,454.29 635.22,455.76 636.46,457.18 637.71,458.55 638.95,459.86 640.20,461.11 641.44,462.31 642.69,463.45 643.93,464.54 645.18,465.57 646.43,466.55 647.67,467.47 648.92,468.33 650.16,469.14 651.41,469.88 652.65,470.58 653.90,471.21 655.14,471.79 656.39,472.31 657.63,472.77 658.88,473.18 660.12,473.53 661.37,473.82 662.61,474.05 663.86,474.22 665.10,474.33 666.35,474.39 667.59,474.39 668.84,474.33 670.08,474.21 671.33,474.03 672.57,473.79 673.82,473.49 675.06,473.13 676.31,472.71 677.55,472.24 678.80,471.70" stroke="#ff8000" stroke-dasharray="10.9 7.3"/>
</g>
<path d="M396.08 496.0v-1.5M396.08 305.0v1.5M410.96 496.0v-1.5M410.96 305.0v1.5M425.84 496.0v-1.5M425.84 305.0v1.5M440.72 496.0v-1.5M440.72 305.0v1.5M470.48 496.0v-1.5M470.48 305.0v1.5M485.36 496.0v-1.5M485.36 305.0v1.5M500.24 496.0v-1.5M500.24 305.0v1.5M515.12 496.0v-1.5M515.12 305.0v1.5M544.88 496.0v-1.5M544.88 305.0v1.5M559.76 496.0v-1.5M559.76 305.0v1.5M574.64 496.0v-1.5M574.64 305.0v1.5M589.52 496.0v-1.5M589.52 305.0v1.5M619.28 496.0v-1.5M619.28 305.0v1.5M634.16 496.0v-1.5M634.16 305.0v1.5M649.04 496.0v-1.5M649.04 305.0v1.5M663.92 496.0v-1.5M663.92 305.0v1.5M374.9 492.66h1.5M684.5 492.66h-1.5M374.9 482.42h1.5M684.5 482.42h-1.5M374.9 472.18h1.5M684.5 472.18h-1.5M374.9 461.94h1.5M684.5 461.94h-1.5M374.9 441.46h1.5M684.5 441.46h-1.5M374.9 431.22h1.5M684.5 431.22h-1.5M374.9 420.98h1.5M684.5 420.98h-1.5M374.9 410.74h1.5M684.5 410.74h-1.5M374.9 390.26h1.5M684.5 390.26h-1.5M374.9 380.02h1.5M684.5 380.02h-1.5M374.9 369.78h1.5M684.5 369.78h-1.5M374.9 359.54h1.5M684.5 359.54h-1.5M374.9 339.06h1.5M684.5 339.06h-1.5M374.9 328.82h1.5M684.5 328.82h-1.5M374.9 318.58h1.5M684.5 318.58h-1.5M374.9 308.34h1.5M684.5 308.34h-1.5" stroke="#9a9a9a" stroke-width="0.8" fill="none"/>
<path d="M381.20 496.0v-2.7M381.20 305.0v2.7M455.60 496.0v-2.7M455.60 305.0v2.7M530.00 496.0v-2.7M530.00 305.0v2.7M604.40 496.0v-2.7M604.40 305.0v2.7M678.80 496.0v-2.7M678.80 305.0v2.7M374.9 451.70h2.7M684.5 451.70h-2.7M374.9 400.50h2.7M684.5 400.50h-2.7M374.9 349.30h2.7M684.5 349.30h-2.7" stroke="#6a6a6a" stroke-width="0.85" fill="none"/>
<rect x="374.9" y="305.0" width="309.60" height="191.00" fill="none" stroke="#bebebe" stroke-width="1.05"/>
<g font-family="Liberation Serif, serif" font-weight="bold" font-size="11px" fill="#000" stroke="#000" stroke-width="0.12" stroke-linejoin="round">
<text x="377.69" y="508.70">1.0</text><rect x="371.37" y="505.32" width="6.0" height="1.25" fill="#000"/>
<text x="452.32" y="508.70">0.5</text><rect x="445.54" y="505.32" width="6.0" height="1.25" fill="#000"/>
<text x="523.12" y="508.70">0.0</text>
<text x="597.52" y="508.70">0.5</text>
<text x="671.69" y="508.70">1.0</text>
<text x="367.12" y="455.40">0</text>
<text x="367.10" y="404.20">5</text>
<text x="361.62" y="353.00">10</text>
<text x="431.4" y="328.85" xml:space="preserve"><tspan font-style="italic">δ</tspan><tspan> = 0.2</tspan></text>
<text x="431.85" y="343.7" xml:space="preserve"><tspan font-style="italic">δ</tspan><tspan> = 0.4</tspan></text>
<text x="432.6" y="359.4" xml:space="preserve"><tspan font-style="italic">δ</tspan><tspan> = 0.6</tspan></text>
<text x="432.9" y="374.4" xml:space="preserve"><tspan font-style="italic">δ</tspan><tspan> = 0.8</tspan></text>
</g>
<line x1="388.0" y1="328.1" x2="428.5" y2="328.1" stroke="#222" stroke-width="1.2"/>
<line x1="388.8" y1="341.3" x2="428.2" y2="341.3" stroke="#0000ff" stroke-width="1.3" stroke-dasharray="1.1 1.8 5.6 1.7"/>
<line x1="388.0" y1="356.9" x2="428.9" y2="356.9" stroke="#ff0000" stroke-width="1.55" stroke-dasharray="1.4 2.0"/>
<line x1="387.6" y1="371.8" x2="429.6" y2="371.8" stroke="#ff8000" stroke-width="1.4" stroke-dasharray="5.85 1.5"/>
<text transform="translate(346.9,403.7) scale(1.08,1)" font-family="Liberation Serif, serif" font-weight="bold" font-style="italic" font-size="12px">w</text>
<text x="355.5" y="405.9" font-family="Liberation Serif, serif" font-weight="bold" font-style="italic" font-size="8.5px">s</text>
<text x="529.3" y="524.0" text-anchor="middle" font-family="Liberation Serif, serif" font-weight="bold" font-style="italic" font-size="12px">r</text>
<path d="M505.00 549.90C497.53 556.10 497.53 565.70 505.00 571.90L505.45 571.45C499.45 565.30 499.45 556.50 505.45 550.35Z" fill="#000"/><text transform="translate(505.74,566.50) scale(1.077,1)" font-family="Liberation Serif, serif" font-size="22px">d</text><path d="M519.50 549.90C526.97 556.10 526.97 565.70 519.50 571.90L519.05 571.45C525.05 565.30 525.05 556.50 519.05 550.35Z" fill="#000"/>
<line x1="531.1" y1="452.7" x2="585.10" y2="327.43" stroke="#3a3a3a" stroke-width="0.85"/>
<path d="M589.30 317.70L587.79 329.79L585.10 327.43L581.55 327.10Z" fill="#000"/>
<clipPath id="cle"><rect x="196.9" y="614.6" width="308.20000000000005" height="189.60000000000002"/></clipPath>
<g clip-path="url(#cle)" fill="none" stroke-width="1.6" stroke-linejoin="round">
<polyline points="203.10,763.34 204.34,763.15 205.57,762.96 206.81,762.78 208.05,762.60 209.28,762.42 210.52,762.25 211.76,762.07 212.99,761.89 214.23,761.72 215.47,761.53 216.71,761.34 217.94,761.15 219.18,760.94 220.42,760.73 221.65,760.50 222.89,760.26 224.13,760.01 225.36,759.74 226.60,759.46 227.84,759.15 229.07,758.83 230.31,758.48 231.55,758.12 232.78,757.73 234.02,757.31 235.26,756.87 236.49,756.40 237.73,755.90 238.97,755.37 240.20,754.80 241.44,754.21 242.68,753.57 243.92,752.90 245.15,752.20 246.39,751.45 247.63,750.67 248.86,749.85 250.10,748.99 251.34,748.10 252.57,747.16 253.81,746.20 255.05,745.20 256.28,744.16 257.52,743.09 258.76,741.99 259.99,740.85 261.23,739.68 262.47,738.48 263.70,737.25 264.94,735.98 266.18,734.69 267.41,733.37 268.65,732.01 269.89,730.63 271.13,729.22 272.36,727.78 273.60,726.32 274.84,724.83 276.07,723.32 277.31,721.78 278.55,720.23 279.78,718.65 281.02,717.07 282.26,715.47 283.49,713.86 284.73,712.24 285.97,710.61 287.20,708.98 288.44,707.34 289.68,705.71 290.91,704.07 292.15,702.44 293.39,700.81 294.62,699.19 295.86,697.58 297.10,695.98 298.34,694.39 299.57,692.82 300.81,691.26 302.05,689.73 303.28,688.21 304.52,686.72 305.76,685.26 306.99,683.82 308.23,682.41 309.47,681.03 310.70,679.68 311.94,678.36 313.18,677.08 314.41,675.83 315.65,674.61 316.89,673.43 318.12,672.29 319.36,671.17 320.60,670.10 321.83,669.06 323.07,668.06 324.31,667.10 325.55,666.18 326.78,665.29 328.02,664.45 329.26,663.65 330.49,662.89 331.73,662.17 332.97,661.50 334.20,660.87 335.44,660.28 336.68,659.74 337.91,659.24 339.15,658.79 340.39,658.38 341.62,658.03 342.86,657.72 344.10,657.46 345.33,657.25 346.57,657.08 347.81,656.97 349.04,656.91 350.28,656.89 351.52,656.92 352.76,657.00 353.99,657.13 355.23,657.31 356.47,657.53 357.70,657.80 358.94,658.12 360.18,658.48 361.41,658.89 362.65,659.35 363.89,659.85 365.12,660.40 366.36,661.00 367.60,661.64 368.83,662.32 370.07,663.06 371.31,663.83 372.54,664.65 373.78,665.52 375.02,666.42 376.25,667.37 377.49,668.36 378.73,669.39 379.97,670.45 381.20,671.56 382.44,672.70 383.68,673.88 384.91,675.09 386.15,676.34 387.39,677.62 388.62,678.94 389.86,680.28 391.10,681.66 392.33,683.07 393.57,684.50 394.81,685.96 396.04,687.45 397.28,688.97 398.52,690.50 399.75,692.06 400.99,693.64 402.23,695.24 403.46,696.86 404.70,698.49 405.94,700.15 407.18,701.81 408.41,703.49 409.65,705.18 410.89,706.89 412.12,708.60 413.36,710.32 414.60,712.05 415.83,713.78 417.07,715.52 418.31,717.26 419.54,719.01 420.78,720.75 422.02,722.49 423.25,724.24 424.49,725.98 425.73,727.71 426.96,729.45 428.20,731.17 429.44,732.89 430.67,734.59 431.91,736.29 433.15,737.98 434.39,739.65 435.62,741.31 436.86,742.95 438.10,744.58 439.33,746.18 440.57,747.78 441.81,749.35 443.04,750.90 444.28,752.43 445.52,753.95 446.75,755.44 447.99,756.91 449.23,758.35 450.46,759.78 451.70,761.18 452.94,762.55 454.17,763.90 455.41,765.22 456.65,766.52 457.88,767.79 459.12,769.03 460.36,770.24 461.60,771.42 462.83,772.58 464.07,773.70 465.31,774.79 466.54,775.84 467.78,776.87 469.02,777.86 470.25,778.81 471.49,779.74 472.73,780.62 473.96,781.47 475.20,782.28 476.44,783.06 477.67,783.79 478.91,784.49 480.15,785.15 481.38,785.77 482.62,786.34 483.86,786.88 485.09,787.37 486.33,787.82 487.57,788.22 488.81,788.58 490.04,788.90 491.28,789.16 492.52,789.39 493.75,789.56 494.99,789.69 496.23,789.77 497.46,789.80 498.70,789.77" stroke="#000000"/>
<polyline points="203.10,762.38 204.34,762.43 205.57,762.48 206.81,762.53 208.05,762.57 209.28,762.60 210.52,762.63 211.76,762.64 212.99,762.65 214.23,762.64 215.47,762.62 216.71,762.58 217.94,762.52 219.18,762.45 220.42,762.36 221.65,762.24 222.89,762.11 224.13,761.95 225.36,761.76 226.60,761.55 227.84,761.31 229.07,761.03 230.31,760.73 231.55,760.40 232.78,760.03 234.02,759.63 235.26,759.19 236.49,758.71 237.73,758.19 238.97,757.64 240.20,757.03 241.44,756.39 242.68,755.70 243.92,754.97 245.15,754.18 246.39,753.35 247.63,752.47 248.86,751.54 250.10,750.56 251.34,749.53 252.57,748.46 253.81,747.33 255.05,746.16 256.28,744.94 257.52,743.68 258.76,742.37 259.99,741.03 261.23,739.65 262.47,738.24 263.70,736.79 264.94,735.31 266.18,733.80 267.41,732.26 268.65,730.70 269.89,729.11 271.13,727.50 272.36,725.87 273.60,724.22 274.84,722.55 276.07,720.88 277.31,719.19 278.55,717.49 279.78,715.80 281.02,714.09 282.26,712.38 283.49,710.66 284.73,708.93 285.97,707.19 287.20,705.44 288.44,703.68 289.68,701.92 290.91,700.16 292.15,698.40 293.39,696.64 294.62,694.88 295.86,693.13 297.10,691.37 298.34,689.63 299.57,687.90 300.81,686.17 302.05,684.46 303.28,682.77 304.52,681.10 305.76,679.46 306.99,677.84 308.23,676.25 309.47,674.69 310.70,673.16 311.94,671.67 313.18,670.22 314.41,668.81 315.65,667.44 316.89,666.10 318.12,664.81 319.36,663.56 320.60,662.35 321.83,661.19 323.07,660.07 324.31,658.99 325.55,657.95 326.78,656.96 328.02,656.02 329.26,655.12 330.49,654.27 331.73,653.47 332.97,652.72 334.20,652.01 335.44,651.35 336.68,650.75 337.91,650.19 339.15,649.69 340.39,649.24 341.62,648.84 342.86,648.49 344.10,648.19 345.33,647.95 346.57,647.77 347.81,647.64 349.04,647.56 350.28,647.54 351.52,647.57 352.76,647.66 353.99,647.80 355.23,647.99 356.47,648.24 357.70,648.53 358.94,648.88 360.18,649.29 361.41,649.74 362.65,650.25 363.89,650.80 365.12,651.41 366.36,652.07 367.60,652.77 368.83,653.53 370.07,654.33 371.31,655.19 372.54,656.09 373.78,657.03 375.02,658.03 376.25,659.07 377.49,660.15 378.73,661.28 379.97,662.45 381.20,663.66 382.44,664.91 383.68,666.20 384.91,667.54 386.15,668.91 387.39,670.31 388.62,671.76 389.86,673.24 391.10,674.76 392.33,676.31 393.57,677.89 394.81,679.50 396.04,681.15 397.28,682.82 398.52,684.53 399.75,686.26 400.99,688.01 402.23,689.80 403.46,691.60 404.70,693.43 405.94,695.28 407.18,697.14 408.41,699.02 409.65,700.92 410.89,702.83 412.12,704.75 413.36,706.68 414.60,708.63 415.83,710.57 417.07,712.53 418.31,714.48 419.54,716.44 420.78,718.40 422.02,720.36 423.25,722.31 424.49,724.26 425.73,726.20 426.96,728.14 428.20,730.06 429.44,731.98 430.67,733.88 431.91,735.76 433.15,737.63 434.39,739.49 435.62,741.32 436.86,743.13 438.10,744.92 439.33,746.69 440.57,748.43 441.81,750.15 443.04,751.84 444.28,753.51 445.52,755.15 446.75,756.76 447.99,758.35 449.23,759.91 450.46,761.43 451.70,762.93 452.94,764.40 454.17,765.84 455.41,767.24 456.65,768.62 457.88,769.96 459.12,771.26 460.36,772.53 461.60,773.77 462.83,774.97 464.07,776.14 465.31,777.26 466.54,778.35 467.78,779.40 469.02,780.42 470.25,781.39 471.49,782.32 472.73,783.22 473.96,784.07 475.20,784.87 476.44,785.64 477.67,786.36 478.91,787.04 480.15,787.67 481.38,788.26 482.62,788.80 483.86,789.30 485.09,789.74 486.33,790.14 487.57,790.49 488.81,790.79 490.04,791.04 491.28,791.24 492.52,791.39 493.75,791.49 494.99,791.53 496.23,791.52 497.46,791.46 498.70,791.34" stroke="#0000ff" stroke-dasharray="13.2 5.2 2 5.2" stroke-dashoffset="5.8"/>
<polyline points="203.10,761.28 204.34,761.62 205.57,761.94 206.81,762.25 208.05,762.54 209.28,762.81 210.52,763.06 211.76,763.29 212.99,763.50 214.23,763.69 215.47,763.85 216.71,763.98 217.94,764.08 219.18,764.16 220.42,764.20 221.65,764.22 222.89,764.20 224.13,764.14 225.36,764.05 226.60,763.92 227.84,763.75 229.07,763.53 230.31,763.28 231.55,762.98 232.78,762.64 234.02,762.25 235.26,761.82 236.49,761.33 237.73,760.80 238.97,760.21 240.20,759.56 241.44,758.87 242.68,758.11 243.92,757.30 245.15,756.43 246.39,755.50 247.63,754.51 248.86,753.46 250.10,752.34 251.34,751.16 252.57,749.92 253.81,748.61 255.05,747.24 256.28,745.82 257.52,744.34 258.76,742.81 259.99,741.24 261.23,739.62 262.47,737.96 263.70,736.27 264.94,734.54 266.18,732.79 267.41,731.01 268.65,729.20 269.89,727.38 271.13,725.54 272.36,723.69 273.60,721.84 274.84,719.97 276.07,718.11 277.31,716.25 278.55,714.40 279.78,712.56 281.02,710.72 282.26,708.88 283.49,707.03 284.73,705.17 285.97,703.30 287.20,701.42 288.44,699.54 289.68,697.64 290.91,695.74 292.15,693.83 293.39,691.91 294.62,690.00 295.86,688.08 297.10,686.16 298.34,684.24 299.57,682.32 300.81,680.40 302.05,678.50 303.28,676.61 304.52,674.74 305.76,672.89 306.99,671.06 308.23,669.27 309.47,667.50 310.70,665.78 311.94,664.09 313.18,662.45 314.41,660.85 315.65,659.30 316.89,657.80 318.12,656.34 319.36,654.94 320.60,653.58 321.83,652.26 323.07,651.00 324.31,649.79 325.55,648.63 326.78,647.52 328.02,646.46 329.26,645.46 330.49,644.51 331.73,643.61 332.97,642.76 334.20,641.98 335.44,641.24 336.68,640.56 337.91,639.94 339.15,639.38 340.39,638.87 341.62,638.42 342.86,638.03 344.10,637.70 345.33,637.42 346.57,637.21 347.81,637.06 349.04,636.97 350.28,636.94 351.52,636.97 352.76,637.06 353.99,637.22 355.23,637.43 356.47,637.70 357.70,638.03 358.94,638.42 360.18,638.87 361.41,639.37 362.65,639.93 363.89,640.55 365.12,641.22 366.36,641.94 367.60,642.72 368.83,643.56 370.07,644.45 371.31,645.39 372.54,646.38 373.78,647.42 375.02,648.51 376.25,649.66 377.49,650.85 378.73,652.09 379.97,653.37 381.20,654.71 382.44,656.08 383.68,657.51 384.91,658.97 386.15,660.48 387.39,662.03 388.62,663.62 389.86,665.26 391.10,666.93 392.33,668.64 393.57,670.39 394.81,672.18 396.04,674.00 397.28,675.86 398.52,677.75 399.75,679.68 400.99,681.64 402.23,683.63 403.46,685.64 404.70,687.69 405.94,689.76 407.18,691.85 408.41,693.96 409.65,696.09 410.89,698.23 412.12,700.39 413.36,702.57 414.60,704.75 415.83,706.94 417.07,709.13 418.31,711.33 419.54,713.53 420.78,715.73 422.02,717.93 423.25,720.12 424.49,722.31 425.73,724.49 426.96,726.65 428.20,728.81 429.44,730.94 430.67,733.07 431.91,735.17 433.15,737.25 434.39,739.31 435.62,741.34 436.86,743.34 438.10,745.32 439.33,747.26 440.57,749.18 441.81,751.06 443.04,752.91 444.28,754.73 445.52,756.51 446.75,758.27 447.99,759.98 449.23,761.67 450.46,763.31 451.70,764.92 452.94,766.50 454.17,768.03 455.41,769.53 456.65,770.99 457.88,772.41 459.12,773.79 460.36,775.13 461.60,776.43 462.83,777.69 464.07,778.90 465.31,780.07 466.54,781.20 467.78,782.28 469.02,783.32 470.25,784.31 471.49,785.26 472.73,786.16 473.96,787.01 475.20,787.81 476.44,788.57 477.67,789.27 478.91,789.93 480.15,790.53 481.38,791.09 482.62,791.59 483.86,792.04 485.09,792.44 486.33,792.78 487.57,793.07 488.81,793.30 490.04,793.48 491.28,793.60 492.52,793.67 493.75,793.67 494.99,793.62 496.23,793.51 497.46,793.35 498.70,793.12" stroke="#ff0000" stroke-dasharray="3.7 1.6"/>
<polyline points="203.10,760.12 204.34,760.76 205.57,761.37 206.81,761.95 208.05,762.50 209.28,763.03 210.52,763.52 211.76,763.98 212.99,764.40 214.23,764.79 215.47,765.15 216.71,765.46 217.94,765.74 219.18,765.97 220.42,766.16 221.65,766.31 222.89,766.41 224.13,766.46 225.36,766.47 226.60,766.42 227.84,766.33 229.07,766.18 230.31,765.98 231.55,765.72 232.78,765.41 234.02,765.03 235.26,764.60 236.49,764.11 237.73,763.55 238.97,762.93 240.20,762.24 241.44,761.49 242.68,760.67 243.92,759.78 245.15,758.82 246.39,757.78 247.63,756.67 248.86,755.49 250.10,754.23 251.34,752.89 252.57,751.47 253.81,749.97 255.05,748.39 256.28,746.75 257.52,745.04 258.76,743.28 259.99,741.46 261.23,739.59 262.47,737.67 263.70,735.72 264.94,733.73 266.18,731.72 267.41,729.68 268.65,727.62 269.89,725.55 271.13,723.47 272.36,721.39 273.60,719.31 274.84,717.24 276.07,715.18 277.31,713.14 278.55,711.12 279.78,709.13 281.02,707.15 282.26,705.18 283.49,703.20 284.73,701.20 285.97,699.19 287.20,697.18 288.44,695.14 289.68,693.10 290.91,691.05 292.15,688.98 293.39,686.91 294.62,684.83 295.86,682.73 297.10,680.63 298.34,678.52 299.57,676.41 300.81,674.29 302.05,672.18 303.28,670.08 304.52,667.99 305.76,665.93 306.99,663.89 308.23,661.87 309.47,659.90 310.70,657.96 311.94,656.07 313.18,654.22 314.41,652.43 315.65,650.69 316.89,649.01 318.12,647.38 319.36,645.80 320.60,644.28 321.83,642.82 323.07,641.41 324.31,640.06 325.55,638.76 326.78,637.53 328.02,636.35 329.26,635.23 330.49,634.17 331.73,633.17 332.97,632.23 334.20,631.35 335.44,630.53 336.68,629.78 337.91,629.09 339.15,628.46 340.39,627.89 341.62,627.39 342.86,626.95 344.10,626.58 345.33,626.27 346.57,626.03 347.81,625.86 349.04,625.76 350.28,625.72 351.52,625.75 352.76,625.85 353.99,626.02 355.23,626.25 356.47,626.55 357.70,626.91 358.94,627.34 360.18,627.83 361.41,628.39 362.65,629.01 363.89,629.69 365.12,630.43 366.36,631.23 367.60,632.09 368.83,633.00 370.07,633.98 371.31,635.01 372.54,636.10 373.78,637.24 375.02,638.44 376.25,639.69 377.49,641.00 378.73,642.36 379.97,643.77 381.20,645.23 382.44,646.74 383.68,648.30 384.91,649.90 386.15,651.56 387.39,653.26 388.62,655.01 389.86,656.81 391.10,658.65 392.33,660.53 393.57,662.46 394.81,664.43 396.04,666.44 397.28,668.49 398.52,670.58 399.75,672.72 400.99,674.89 402.23,677.09 403.46,679.34 404.70,681.61 405.94,683.91 407.18,686.24 408.41,688.60 409.65,690.97 410.89,693.37 412.12,695.78 413.36,698.21 414.60,700.64 415.83,703.09 417.07,705.54 418.31,708.00 419.54,710.45 420.78,712.91 422.02,715.36 423.25,717.81 424.49,720.24 425.73,722.67 426.96,725.08 428.20,727.48 429.44,729.85 430.67,732.21 431.91,734.54 433.15,736.84 434.39,739.11 435.62,741.35 436.86,743.56 438.10,745.73 439.33,747.87 440.57,749.96 441.81,752.02 443.04,754.04 444.28,756.02 445.52,757.96 446.75,759.86 447.99,761.71 449.23,763.53 450.46,765.30 451.70,767.03 452.94,768.72 454.17,770.36 455.41,771.95 456.65,773.51 457.88,775.01 459.12,776.47 460.36,777.88 461.60,779.24 462.83,780.56 464.07,781.83 465.31,783.04 466.54,784.21 467.78,785.33 469.02,786.39 470.25,787.40 471.49,788.36 472.73,789.27 473.96,790.12 475.20,790.92 476.44,791.66 477.67,792.35 478.91,792.99 480.15,793.56 481.38,794.08 482.62,794.54 483.86,794.94 485.09,795.29 486.33,795.57 487.57,795.79 488.81,795.96 490.04,796.06 491.28,796.10 492.52,796.07 493.75,795.99 494.99,795.84 496.23,795.62 497.46,795.34 498.70,795.00" stroke="#ff8000" stroke-dasharray="10.9 7.3"/>
</g>
<path d="M217.88 804.2v-1.5M217.88 614.6v1.5M232.66 804.2v-1.5M232.66 614.6v1.5M247.44 804.2v-1.5M247.44 614.6v1.5M262.22 804.2v-1.5M262.22 614.6v1.5M291.78 804.2v-1.5M291.78 614.6v1.5M306.56 804.2v-1.5M306.56 614.6v1.5M321.34 804.2v-1.5M321.34 614.6v1.5M336.12 804.2v-1.5M336.12 614.6v1.5M365.68 804.2v-1.5M365.68 614.6v1.5M380.46 804.2v-1.5M380.46 614.6v1.5M395.24 804.2v-1.5M395.24 614.6v1.5M410.02 804.2v-1.5M410.02 614.6v1.5M439.58 804.2v-1.5M439.58 614.6v1.5M454.36 804.2v-1.5M454.36 614.6v1.5M469.14 804.2v-1.5M469.14 614.6v1.5M483.92 804.2v-1.5M483.92 614.6v1.5M196.9 792.20h1.5M505.1 792.20h-1.5M196.9 783.90h1.5M505.1 783.90h-1.5M196.9 775.60h1.5M505.1 775.60h-1.5M196.9 759.00h1.5M505.1 759.00h-1.5M196.9 750.70h1.5M505.1 750.70h-1.5M196.9 742.40h1.5M505.1 742.40h-1.5M196.9 725.80h1.5M505.1 725.80h-1.5M196.9 717.50h1.5M505.1 717.50h-1.5M196.9 709.20h1.5M505.1 709.20h-1.5M196.9 692.60h1.5M505.1 692.60h-1.5M196.9 684.30h1.5M505.1 684.30h-1.5M196.9 676.00h1.5M505.1 676.00h-1.5M196.9 659.40h1.5M505.1 659.40h-1.5M196.9 651.10h1.5M505.1 651.10h-1.5M196.9 642.80h1.5M505.1 642.80h-1.5M196.9 626.20h1.5M505.1 626.20h-1.5M196.9 617.90h1.5M505.1 617.90h-1.5" stroke="#9a9a9a" stroke-width="0.8" fill="none"/>
<path d="M203.10 804.2v-2.7M203.10 614.6v2.7M277.00 804.2v-2.7M277.00 614.6v2.7M350.90 804.2v-2.7M350.90 614.6v2.7M424.80 804.2v-2.7M424.80 614.6v2.7M498.70 804.2v-2.7M498.70 614.6v2.7M196.9 800.50h2.7M505.1 800.50h-2.7M196.9 767.30h2.7M505.1 767.30h-2.7M196.9 734.10h2.7M505.1 734.10h-2.7M196.9 700.90h2.7M505.1 700.90h-2.7M196.9 667.70h2.7M505.1 667.70h-2.7M196.9 634.50h2.7M505.1 634.50h-2.7" stroke="#6a6a6a" stroke-width="0.85" fill="none"/>
<rect x="196.9" y="614.6" width="308.20" height="189.60" fill="none" stroke="#bebebe" stroke-width="1.05"/>
<g font-family="Liberation Serif, serif" font-weight="bold" font-size="11px" fill="#000" stroke="#000" stroke-width="0.12" stroke-linejoin="round">
<text x="199.59" y="816.90">1.0</text><rect x="193.27" y="813.53" width="6.0" height="1.25" fill="#000"/>
<text x="273.72" y="816.90">0.5</text><rect x="266.94" y="813.53" width="6.0" height="1.25" fill="#000"/>
<text x="344.02" y="816.90">0.0</text>
<text x="417.92" y="816.90">0.5</text>
<text x="491.59" y="816.90">1.0</text>
<text x="189.57" y="804.20">2</text><rect x="182.83" y="800.83" width="6.0" height="1.25" fill="#000"/>
<text x="189.52" y="771.00">0</text>
<text x="189.57" y="737.80">2</text>
<text x="189.30" y="704.60">4</text>
<text x="189.42" y="671.40">6</text>
<text x="189.47" y="638.20">8</text>
<text x="257.0" y="635.9" xml:space="preserve"><tspan font-style="italic">β</tspan><tspan dx="0.9"> = 2</tspan></text>
<text x="257.4" y="652.65" xml:space="preserve"><tspan font-style="italic">β</tspan><tspan dx="0.9"> = 3</tspan></text>
<text x="258.4" y="669.4" xml:space="preserve"><tspan font-style="italic">β</tspan><tspan dx="0.9"> = 4</tspan></text>
<text x="258.7" y="686.2" xml:space="preserve"><tspan font-style="italic">β</tspan><tspan dx="0.9"> = 5</tspan></text>
</g>
<line x1="213.3" y1="635.4" x2="253.2" y2="635.4" stroke="#222" stroke-width="1.1"/>
<line x1="213.8" y1="649.7" x2="252.9" y2="649.7" stroke="#0000ff" stroke-width="1.3" stroke-dasharray="1.1 1.8 5.6 1.7"/>
<line x1="213.0" y1="666.5" x2="253.9" y2="666.5" stroke="#ff0000" stroke-width="1.55" stroke-dasharray="1.4 2.0"/>
<line x1="212.3" y1="683.0" x2="254.6" y2="683.0" stroke="#ff8000" stroke-width="1.4" stroke-dasharray="5.85 1.5"/>
<text transform="translate(167.0,712.7) scale(1.08,1)" font-family="Liberation Serif, serif" font-weight="bold" font-style="italic" font-size="12px">w</text>
<text x="175.6" y="714.9000000000001" font-family="Liberation Serif, serif" font-weight="bold" font-style="italic" font-size="8.5px">s</text>
<text x="350.2" y="832.0" text-anchor="middle" font-family="Liberation Serif, serif" font-weight="bold" font-style="italic" font-size="12px">r</text>
<path d="M326.20 858.00C318.73 864.20 318.73 873.80 326.20 880.00L326.65 879.55C320.65 873.40 320.65 864.60 326.65 858.45Z" fill="#000"/><text transform="translate(326.66,874.60) scale(1.093,1)" font-family="Liberation Serif, serif" font-size="22px">e</text><path d="M337.80 858.00C345.27 864.20 345.27 873.80 337.80 880.00L337.35 879.55C343.35 873.40 343.35 864.60 337.35 858.45Z" fill="#000"/>
<line x1="356.3" y1="701.8" x2="413.18" y2="648.26" stroke="#3a3a3a" stroke-width="0.85"/>
<path d="M420.90 641.00L414.71 651.49L413.18 648.26L410.05 646.54Z" fill="#000"/>
</svg></div></body></html>
